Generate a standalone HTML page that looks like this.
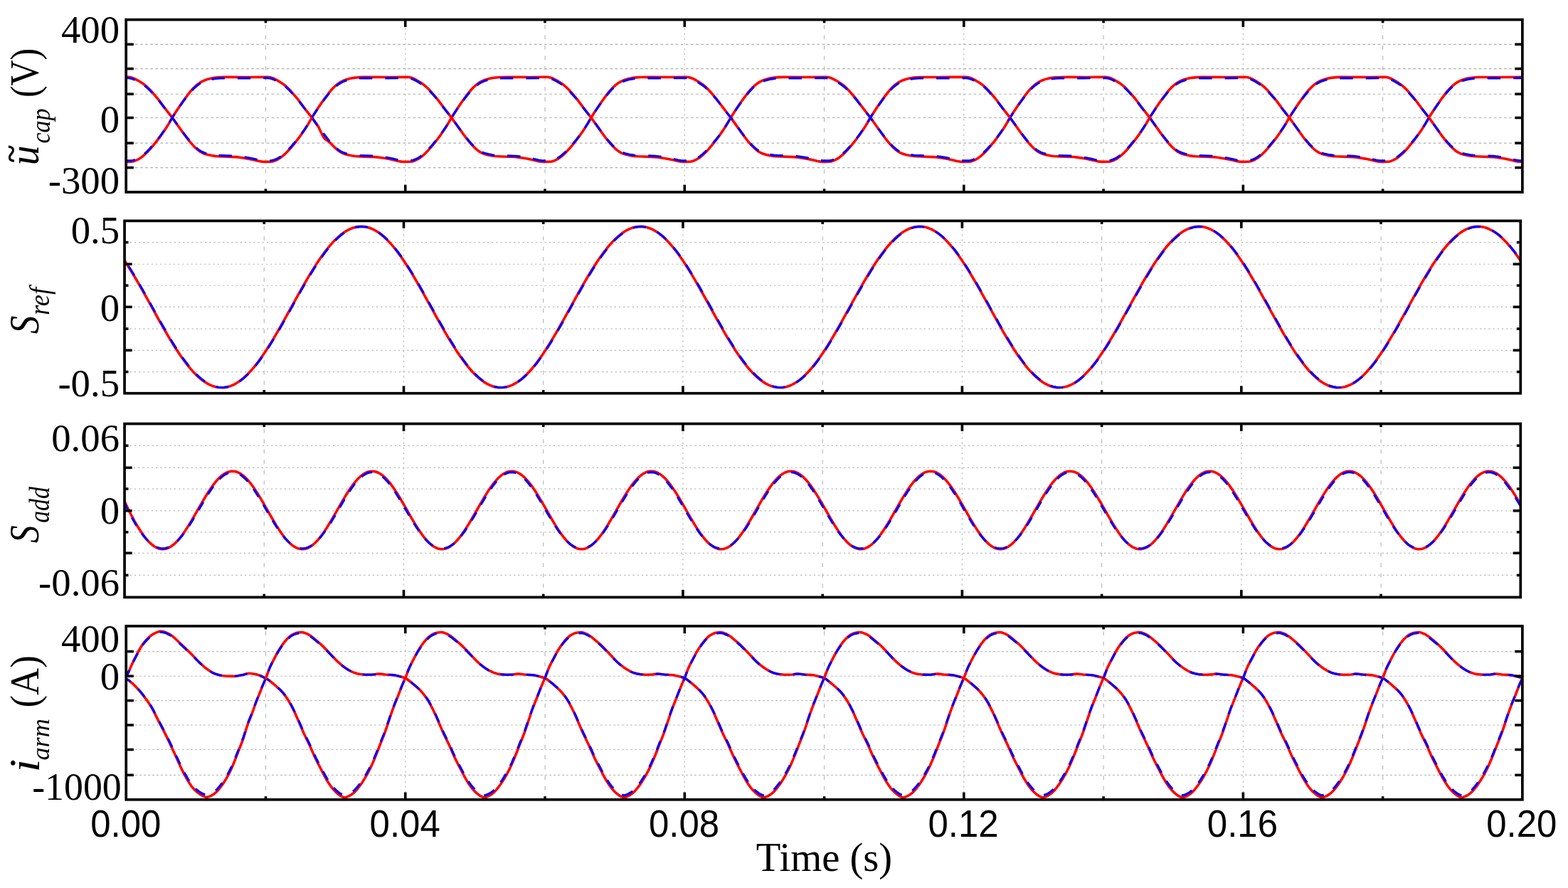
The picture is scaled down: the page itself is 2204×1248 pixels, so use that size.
<!DOCTYPE html>
<html lang="en"><head><meta charset="utf-8"><title>Waveforms</title>
<style>
html,body{margin:0;padding:0;background:#fff;}
body{width:2204px;height:1248px;overflow:hidden;}
svg{display:block;filter:blur(0.55px);}
.yt{font-family:"Liberation Serif",serif;font-size:52px;text-anchor:end;fill:#000;}
.xt{font-family:"Liberation Sans",sans-serif;font-size:50.5px;text-anchor:middle;fill:#000;}
.xl{font-family:"Liberation Serif",serif;font-size:56.6px;text-anchor:middle;fill:#000;}
.yl{font-family:"Liberation Serif",serif;fill:#000;}
.it{font-style:italic;}
</style></head><body>
<svg width="2204" height="1248" viewBox="0 0 2204 1248">
<rect x="0" y="0" width="2204" height="1248" fill="#fff"/>
<defs>
<clipPath id="c0"><rect x="177.2" y="27.65" width="1962.7" height="242.35"/></clipPath>
<clipPath id="c1"><rect x="175.05" y="310.4" width="1962.25" height="242.35"/></clipPath>
<clipPath id="c2"><rect x="175.05" y="595.55" width="1962.25" height="243.85"/></clipPath>
<clipPath id="c3"><rect x="177.25" y="879.9" width="1962.65" height="243.9"/></clipPath>
</defs>
<g>
<g fill="none" stroke-width="1.15">
<line x1="190.05" y1="62.3" x2="2127.75" y2="62.3" stroke="#adadad" stroke-dasharray="3.6 3.5"/>
<line x1="190.05" y1="96.6" x2="2127.75" y2="96.6" stroke="#adadad" stroke-dasharray="3.6 3.5"/>
<line x1="190.05" y1="132.2" x2="2127.75" y2="132.2" stroke="#adadad" stroke-dasharray="3.6 3.5"/>
<line x1="190.05" y1="165.5" x2="2127.75" y2="165.5" stroke="#adadad" stroke-dasharray="3.6 3.5"/>
<line x1="190.05" y1="201.1" x2="2127.75" y2="201.1" stroke="#adadad" stroke-dasharray="3.6 3.5"/>
<line x1="190.05" y1="235.6" x2="2127.75" y2="235.6" stroke="#adadad" stroke-dasharray="3.6 3.5"/>
<line x1="373.47" y1="34.9" x2="373.47" y2="265.15" stroke="#b8b8b8" stroke-dasharray="5.8 8.7"/>
<line x1="569.74" y1="39.5" x2="569.74" y2="259.15" stroke="#b8b8b8" stroke-dasharray="2.3 4.8"/>
<line x1="766.01" y1="34.9" x2="766.01" y2="265.15" stroke="#b8b8b8" stroke-dasharray="5.8 8.7"/>
<line x1="962.28" y1="39.5" x2="962.28" y2="259.15" stroke="#b8b8b8" stroke-dasharray="2.3 4.8"/>
<line x1="1158.55" y1="34.9" x2="1158.55" y2="265.15" stroke="#b8b8b8" stroke-dasharray="5.8 8.7"/>
<line x1="1354.82" y1="39.5" x2="1354.82" y2="259.15" stroke="#b8b8b8" stroke-dasharray="2.3 4.8"/>
<line x1="1551.09" y1="34.9" x2="1551.09" y2="265.15" stroke="#b8b8b8" stroke-dasharray="5.8 8.7"/>
<line x1="1747.36" y1="39.5" x2="1747.36" y2="259.15" stroke="#b8b8b8" stroke-dasharray="2.3 4.8"/>
<line x1="1943.63" y1="34.9" x2="1943.63" y2="265.15" stroke="#b8b8b8" stroke-dasharray="5.8 8.7"/>
</g>
<g clip-path="url(#c0)" fill="none" stroke-linejoin="round">
<path d="M177.2 227.39L184.2 227.24L186.2 227.02L188.2 226.55L191.2 225.43L194.2 224L197.2 222.18L200.2 219.95L204.2 216.49L207.2 213.57L211.2 209.27L216.2 203.36L221.2 197.15L225.2 191.85L230.2 184.73L234.2 178.71L237.2 173.84L242.2 165.19L245.2 160.35L251.2 151.2L256.2 143.9L261.2 136.97L266.2 130.4L269.2 126.75L272.2 123.53L275.2 120.69L278.2 118.23L281.2 116.11L284.2 114.39L287.2 113.03L291.2 111.59L296.2 110.25L301.2 109.36L308.2 108.65L316.2 108.41L351.2 108.45L376.2 108.23L379.2 108.58L382.2 109.38L385.2 110.55L389.2 112.59L395.2 116.23L399.2 119.01L402.2 121.46L405.2 124.24L408.2 127.35L416.2 136.56L419.2 140.22L423.2 145.57L428.2 152.29L438.2 165.11L442.2 170.63L448.2 179.14L449.2 181.77L451.2 185.8L453.2 189.92L454.2 191.77L455.2 193.37L456.2 194.67L457.2 195.67L458.2 196.44L461.2 198.29L463.2 199.86L466.2 202.81L470.2 206.92L473.2 209.68L476.2 212.12L478.2 213.48L481.2 215.08L484.2 216.29L488.2 217.48L494.2 218.71L499.2 219.47L506.2 219.86L527.2 220.59L533.2 221.17L545.2 223.09L554.2 224.96L560.2 226.49L564.2 227.1L568.2 227.37L576.2 227.26L579.2 226.94L581.2 226.4L584.2 225.23L587.2 223.75L590.2 221.87L593.2 219.58L597.2 216.06L601.2 212.05L605.2 207.6L611.2 200.34L615.2 195.26L619.2 189.82L624.2 182.57L627.2 177.99L630.2 173.06L634.2 166.1L637.2 161.2L643.2 152.01L648.2 144.67L653.2 137.7L659.2 129.82L662.2 126.23L665.2 123.07L668.2 120.29L671.2 117.89L674.2 115.82L677.2 114.16L681.2 112.46L686.2 110.87L691.2 109.76L697.2 108.95L703.2 108.52L715.2 108.41L743.2 108.46L768.2 108.22L771.2 108.49L774.2 109.21L777.2 110.31L781.2 112.29L787.2 115.89L791.2 118.61L794.2 121L797.2 123.72L800.2 126.77L805.2 132.45L810.2 138.31L813.2 142.12L820.2 151.58L827.2 160.57L831.2 165.73L836.2 172.71L846.2 186.77L851.2 193.5L855.2 198.57L858.2 202.1L861.2 205.36L864.2 208.3L867.2 210.91L870.2 213.14L873.2 214.82L876.2 216.1L880.2 217.34L886.2 218.61L891.2 219.41L897.2 219.81L920.2 220.62L926.2 221.23L938.2 223.17L947.2 225.07L953.2 226.58L957.2 227.15L961.2 227.38L969.2 227.24L971.2 227.04L973.2 226.58L976.2 225.47L979.2 224.05L982.2 222.24L985.2 220.02L989.2 216.56L992.2 213.65L996.2 209.36L1001.2 203.46L1007.2 195.96L1011.2 190.57L1016.2 183.37L1020.2 177.26L1023.2 172.26L1027.2 165.32L1030.2 160.48L1036.2 151.32L1041.2 144.01L1046.2 137.08L1051.2 130.5L1054.2 126.84L1057.2 123.61L1060.2 120.76L1063.2 118.3L1066.2 116.16L1069.2 114.43L1072.2 113.06L1076.2 111.62L1081.2 110.27L1086.2 109.38L1093.2 108.65L1101.2 108.41L1136.2 108.45L1161.2 108.23L1164.2 108.57L1167.2 109.35L1170.2 110.52L1174.2 112.54L1180.2 116.18L1184.2 118.95L1187.2 121.39L1190.2 124.17L1193.2 127.26L1201.2 136.47L1204.2 140.12L1208.2 145.46L1213.2 152.18L1223.2 165.01L1227.2 170.52L1238.2 186.03L1243.2 192.79L1247.2 197.91L1250.2 201.48L1254.2 205.83L1257.2 208.72L1260.2 211.28L1262.2 212.78L1264.2 214.02L1267.2 215.48L1270.2 216.61L1274.2 217.7L1281.2 219.04L1285.2 219.56L1295.2 219.98L1312.2 220.58L1318.2 221.16L1330.2 223.07L1339.2 224.94L1345.2 226.47L1349.2 227.09L1353.2 227.37L1361.2 227.27L1364.2 226.96L1366.2 226.43L1369.2 225.27L1372.2 223.8L1375.2 221.92L1378.2 219.64L1382.2 216.13L1386.2 212.13L1390.2 207.69L1396.2 200.44L1401.2 194.04L1405.2 188.52L1410.2 181.19L1413.2 176.53L1416.2 171.46L1420.2 164.56L1424.2 158.21L1430.2 149.15L1435.2 141.95L1440.2 135.13L1445.2 128.67L1448.2 125.22L1451.2 122.18L1454.2 119.52L1457.2 117.22L1460.2 115.27L1463.2 113.72L1467.2 112.13L1472.2 110.63L1477.2 109.61L1483.2 108.86L1489.2 108.49L1503.2 108.42L1528.2 108.46L1553.2 108.21L1556.2 108.47L1559.2 109.18L1562.2 110.28L1566.2 112.24L1572.2 115.84L1576.2 118.55L1579.2 120.93L1582.2 123.64L1585.2 126.68L1590.2 132.35L1595.2 138.21L1598.2 142.01L1605.2 151.47L1612.2 160.47L1616.2 165.62L1621.2 172.59L1631.2 186.66L1636.2 193.4L1640.2 198.47L1643.2 202.01L1646.2 205.27L1649.2 208.23L1652.2 210.85L1655.2 213.08L1658.2 214.78L1661.2 216.07L1665.2 217.32L1671.2 218.6L1676.2 219.4L1681.2 219.76L1705.2 220.61L1711.2 221.22L1723.2 223.16L1732.2 225.05L1738.2 226.57L1742.2 227.14L1746.2 227.38L1754.2 227.24L1756.2 227.05L1758.2 226.6L1761.2 225.5L1764.2 224.09L1767.2 222.29L1770.2 220.08L1774.2 216.64L1777.2 213.73L1781.2 209.45L1785.2 204.77L1791.2 197.35L1795.2 192.07L1800.2 184.96L1804.2 178.96L1807.2 174.11L1812.2 165.46L1815.2 160.6L1821.2 151.44L1826.2 144.13L1831.2 137.19L1836.2 130.61L1839.2 126.94L1842.2 123.69L1845.2 120.83L1848.2 118.36L1851.2 116.22L1854.2 114.47L1857.2 113.09L1861.2 111.64L1866.2 110.28L1871.2 109.39L1878.2 108.66L1885.2 108.42L1921.2 108.45L1946.2 108.23L1949.2 108.55L1952.2 109.33L1955.2 110.48L1959.2 112.5L1965.2 116.13L1969.2 118.89L1972.2 121.32L1975.2 124.09L1978.2 127.18L1986.2 136.37L1989.2 140.02L1993.2 145.35L1998.2 152.08L2008.2 164.9L2012.2 170.41L2023.2 185.92L2028.2 192.69L2032.2 197.81L2035.2 201.39L2039.2 205.75L2042.2 208.65L2045.2 211.22L2047.2 212.72L2049.2 213.98L2052.2 215.45L2055.2 216.58L2059.2 217.68L2066.2 219.03L2070.2 219.55L2079.2 219.95L2097.2 220.58L2103.2 221.15L2115.2 223.06L2124.2 224.92L2131.2 226.65L2135.2 227.19L2139.9 227.4" stroke="#ff0000" stroke-width="3.6"/>
<path d="M177.2 225.84L184.2 225.69L186.2 225.49L188.2 225.03L189.87 224.46M203.1 216.18L206.2 213.35L210.2 209.26L213.47 205.62M222.4 194.85L226.2 189.84L230.74 183.46M238.1 172.13L242.2 165.2L245.27 160.38M252.88 149.13L258.2 141.69L261.17 137.72M269.96 126.89L273.2 123.61L276.2 120.98L279.2 118.69L281.67 117.06M297.5 111.37L303.2 110.52L310.2 109.96L315.81 109.84M333.81 109.89L352.31 109.86M370.31 109.66L376.2 109.67L379.2 110L382.2 110.78L385.2 111.93L387.61 113.07M400.85 121.45L404.2 124.34L407.2 127.26L411.44 131.89M420.57 142.58L428.2 152.62L429.19 153.87M437.9 164.74L442.2 170.51L446.25 176.12M454.37 187.2L459.2 193.49L463.22 198.4M473.31 208.67L476.2 210.95L478.2 212.28L481.2 213.84L484.2 215.02L487.98 216.12M505.58 218.48L524.06 219.06M541.79 221.06L551.2 222.83L557.2 224.22L559.47 224.8M577.3 225.65L579.2 225.41L581.2 224.88L584.2 223.74L587.2 222.29L590.2 220.46L592.48 218.79M603.16 208.81L607.2 204.24L612.55 197.82M620.91 186.83L626.2 179.19L628.73 175.27M635.61 163.8L640.2 156.78L643.3 152.2M651.22 141.05L657.2 133.22L659.95 129.8M670.36 119.7L673.2 117.69L676.2 115.94L679.2 114.56L683.2 113.11L685.37 112.46M702.92 109.96L714.2 109.83L721.42 109.86M739.42 109.92L757.91 109.7M775.56 111.06L778.2 112.13L782.2 114.17L788.2 117.75L790.03 118.96M801.11 128.71L809.2 137.81L810.72 139.61M819.15 150.58L826.2 159.47L828.06 161.76M836.37 172.77L844.67 184.17M853.07 195.15L857.2 200.07L861.2 204.36L862.84 205.97M875.57 214.59L879.2 215.78L884.2 216.92L891.2 218.06L893.2 218.25M911.17 218.88L921.2 219.31L927.2 219.97L929.52 220.31M946.91 223.51L953.2 225.05L957.2 225.61L961.2 225.84L964.92 225.81M981.2 221.45L984.2 219.42L988.2 216.17L991.2 213.42L992.99 211.65M1002.4 201.08L1007.2 195.2L1011.25 189.88M1019.07 178.69L1022.2 173.77L1026.23 166.93M1033.54 155.59L1039.2 147.36L1041.54 144.08M1049.85 133.08L1053.2 128.96L1056.2 125.66L1059.2 122.76L1059.72 122.3M1073 114.06L1077.2 112.67L1082.2 111.44L1087.2 110.65L1090.56 110.29M1108.53 109.84L1127.03 109.92M1145.03 109.75L1161.2 109.66L1163.5 109.88M1178.58 116.42L1183.2 119.4L1186.2 121.66L1189.2 124.27L1190.91 125.88M1200.49 136.39L1204.2 140.75L1208.2 145.96L1209.4 147.57M1217.95 158.49L1223.2 165.02L1226.71 169.72M1234.75 180.83L1241.2 189.52L1243.24 192.17M1252.31 202.88L1255.2 205.8L1258.2 208.51L1261.2 210.89L1264.02 212.71M1280.4 217.57L1285.2 218.21L1295.2 218.62L1298.79 218.73M1316.73 219.59L1327.2 221.12L1334.74 222.51M1352.03 225.78L1358.2 225.8L1363.2 225.57L1365.2 225.2L1368.2 224.19L1369.82 223.5M1382.38 214.7L1386.2 210.97L1390.2 206.64L1392.46 204.02M1401.3 193.2L1405.2 187.94L1409.53 181.78M1416.73 170.4L1420.2 164.58L1424.01 158.68M1431.68 147.44L1437.2 139.83L1440.06 136.07M1449.07 125.33L1452.2 122.35L1455.2 119.88L1458.2 117.75L1461.39 115.89M1477.75 110.92L1484.2 110.19L1490.2 109.89L1496.14 109.83M1514.14 109.9L1532.64 109.82M1550.63 109.64L1554.2 109.69L1557.2 110.08L1560.2 110.91L1563.2 112.09L1567.2 114.12L1567.36 114.22M1580.19 122.89L1583.2 125.64L1586.2 128.71L1590.47 133.48M1599.45 144.24L1605.2 151.82L1608.1 155.51M1616.79 166.39L1625.09 177.79M1633.24 188.86L1638.2 195.21L1642.23 200.01M1652.68 210.09L1655.2 211.9L1658.2 213.55L1661.2 214.8L1665.2 216.03L1668.18 216.7M1685.9 218.57L1704.38 219.19M1722.04 221.51L1732.2 223.56L1738.2 225.04L1739.7 225.29M1757.56 225.24L1760.2 224.39L1763.2 223.12L1766.2 221.5L1769.2 219.48L1771.86 217.37M1782.22 207.23L1788.2 200.22L1791.49 196.19M1799.72 185.15L1804.2 178.62L1807.2 173.9L1807.41 173.55M1814.32 162.09L1820.2 153.26L1822.08 150.51M1830.07 139.39L1836.2 131.48L1838.95 128.19M1849.85 118.35L1852.2 116.84L1855.2 115.26L1859.2 113.65L1864.2 112.14L1865.53 111.82M1883.25 109.88L1901.75 109.88M1919.75 109.9L1938.24 109.68M1955.53 112L1959.2 113.82L1965.2 117.36L1969.2 120.06L1969.53 120.3M1980.17 130.29L1988.2 139.44L1989.67 141.24M1998.05 152.22L2007 163.39M2015.2 174.44L2023.52 185.83M2032.02 196.78L2035.2 200.5L2039.2 204.74L2042.09 207.47M2055.61 215.43L2060.2 216.59L2067.2 217.85L2071.2 218.27L2073.52 218.4M2091.5 218.96L2099.2 219.34L2105.2 220.03L2109.79 220.72M2127.07 224.14L2131.2 225.13L2135.2 225.65L2139.9 225.85" stroke="#0000ff" stroke-width="3.1"/>
</g>
<g clip-path="url(#c0)" fill="none" stroke-linejoin="round">
<path d="M177.2 108.21L181.2 108.33L184.2 108.87L187.2 109.83L190.2 111.15L194.2 113.32L200.2 117.07L203.2 119.22L206.2 121.7L209.2 124.51L212.2 127.65L221.2 138.08L224.2 141.87L231.2 151.33L238.2 160.33L242.2 165.47L247.2 172.44L257.2 186.51L262.2 193.25L266.2 198.34L269.2 201.88L272.2 205.16L275.2 208.13L278.2 210.76L281.2 213.01L284.2 214.73L287.2 216.03L291.2 217.29L297.2 218.58L302.2 219.39L307.2 219.76L331.2 220.6L337.2 221.2L349.2 223.14L358.2 225.02L364.2 226.54L368.2 227.13L372.2 227.38L380.2 227.25L383.2 226.89L385.2 226.31L388.2 225.11L391.2 223.6L394.2 221.68L397.2 219.35L401.2 215.8L405.2 211.76L409.2 207.29L415.2 200.01L419.2 194.9L423.2 189.44L428.2 182.16L431.2 177.56L434.2 172.59L438.2 165.64L441.2 160.78L447.2 151.61L452.2 144.28L457.2 137.34L462.2 130.75L465.2 127.06L468.2 123.8L471.2 120.93L474.2 118.44L477.2 116.29L480.2 114.53L483.2 113.14L487.2 111.68L492.2 110.31L497.2 109.4L504.2 108.67L511.2 108.42L547.2 108.45L572.2 108.22L575.2 108.53L578.2 109.29L581.2 110.43L585.2 112.44L591.2 116.06L595.2 118.81L598.2 121.23L601.2 123.98L604.2 127.06L611.2 135.07L615.2 139.88L618.2 143.83L624.2 151.93L631.2 160.91L635.2 166.09L642.2 175.93L651.2 188.52L656.2 195.14L660.2 200.1L664.2 204.59L667.2 207.62L670.2 210.31L673.2 212.64L675.2 213.91L678.2 215.4L681.2 216.54L685.2 217.65L692.2 219.01L696.2 219.54L705.2 219.95L723.2 220.57L729.2 221.13L741.2 223.04L751.2 225.14L757.2 226.63L761.2 227.18L765.2 227.39L773.2 227.22L775.2 226.99L777.2 226.49L780.2 225.35L783.2 223.9L786.2 222.05L789.2 219.8L793.2 216.31L796.2 213.37L800.2 209.06L805.2 203.13L810.2 196.91L814.2 191.59L819.2 184.45L823.2 178.41L826.2 173.52L831.2 164.87L835.2 158.5L841.2 149.43L846.2 142.22L851.2 135.38L856.2 128.91L859.2 125.42L862.2 122.36L865.2 119.68L868.2 117.35L871.2 115.38L874.2 113.81L878.2 112.2L883.2 110.68L888.2 109.64L894.2 108.88L900.2 108.49L914.2 108.42L940.2 108.45L964.2 108.21L967.2 108.44L970.2 109.12L973.2 110.2L976.2 111.61L981.2 114.48L986.2 117.7L989.2 119.94L992.2 122.53L995.2 125.43L998.2 128.68L1006.2 137.98L1009.2 141.76L1016.2 151.22L1023.2 160.23L1027.2 165.36L1031.2 170.9L1042.2 186.4L1047.2 193.15L1051.2 198.24L1054.2 201.79L1057.2 205.08L1060.2 208.05L1063.2 210.69L1066.2 212.96L1069.2 214.69L1072.2 216L1076.2 217.27L1081.2 218.38L1087.2 219.38L1092.2 219.75L1116.2 220.6L1122.2 221.19L1134.2 223.12L1143.2 225L1149.2 226.53L1153.2 227.12L1157.2 227.38L1165.2 227.25L1168.2 226.9L1170.2 226.34L1173.2 225.15L1176.2 223.64L1179.2 221.73L1182.2 219.42L1186.2 215.88L1190.2 211.85L1194.2 207.38L1200.2 200.11L1204.2 195.01L1208.2 189.55L1213.2 182.28L1216.2 177.69L1219.2 172.73L1223.2 165.78L1226.2 160.9L1232.2 151.73L1237.2 144.4L1242.2 137.44L1247.2 130.85L1250.2 127.16L1253.2 123.88L1256.2 121L1259.2 118.5L1262.2 116.34L1265.2 114.57L1268.2 113.17L1272.2 111.7L1277.2 110.33L1282.2 109.41L1288.2 108.75L1294.2 108.46L1316.2 108.47L1335.2 108.41L1357.2 108.22L1360.2 108.52L1363.2 109.26L1366.2 110.4L1370.2 112.39L1376.2 116.01L1380.2 118.75L1383.2 121.16L1386.2 123.9L1389.2 126.97L1396.2 134.98L1400.2 139.78L1403.2 143.72L1409.2 151.83L1416.2 160.81L1420.2 165.98L1426.2 174.4L1435.2 187.03L1440.2 193.75L1444.2 198.8L1447.2 202.31L1450.2 205.56L1453.2 208.48L1456.2 211.07L1458.2 212.59L1460.2 213.87L1463.2 215.37L1466.2 216.52L1470.2 217.63L1477.2 219L1481.2 219.53L1490.2 219.94L1508.2 220.57L1514.2 221.12L1526.2 223.02L1536.2 225.12L1542.2 226.62L1546.2 227.17L1550.2 227.39L1558.2 227.23L1560.2 227.01L1562.2 226.52L1565.2 225.38L1568.2 223.94L1571.2 222.11L1574.2 219.86L1578.2 216.39L1581.2 213.45L1585.2 209.15L1590.2 203.23L1595.2 197.01L1599.2 191.7L1604.2 184.56L1608.2 178.54L1611.2 173.66L1616.2 165.01L1619.2 160.18L1625.2 151.04L1630.2 143.74L1635.2 136.82L1640.2 130.26L1643.2 126.63L1646.2 123.42L1649.2 120.6L1652.2 118.15L1655.2 116.04L1658.2 114.33L1661.2 112.98L1665.2 111.56L1670.2 110.22L1675.2 109.35L1682.2 108.64L1690.2 108.41L1725.2 108.45L1749.2 108.21L1752.2 108.43L1755.2 109.1L1758.2 110.17L1761.2 111.57L1765.2 113.82L1770.2 116.96L1773.2 119.1L1776.2 121.56L1779.2 124.35L1782.2 127.47L1791.2 137.88L1794.2 141.66L1801.2 151.12L1808.2 160.13L1812.2 165.26L1816.2 170.79L1827.2 186.29L1832.2 193.04L1836.2 198.14L1839.2 201.7L1842.2 204.99L1845.2 207.98L1848.2 210.62L1851.2 212.91L1854.2 214.65L1857.2 215.97L1861.2 217.25L1866.2 218.36L1872.2 219.37L1877.2 219.75L1901.2 220.59L1907.2 221.18L1919.2 223.11L1928.2 224.99L1934.2 226.51L1938.2 227.12L1942.2 227.38L1950.2 227.26L1953.2 226.92L1955.2 226.37L1958.2 225.18L1961.2 223.69L1964.2 221.79L1967.2 219.49L1971.2 215.96L1975.2 211.93L1979.2 207.47L1985.2 200.21L1989.2 195.11L1993.2 189.66L1998.2 182.4L2001.2 177.82L2004.2 172.87L2008.2 165.91L2011.2 161.03L2017.2 151.85L2022.2 144.51L2027.2 137.55L2032.2 130.95L2035.2 127.25L2038.2 123.97L2041.2 121.07L2044.2 118.57L2047.2 116.4L2050.2 114.61L2053.2 113.2L2057.2 111.73L2062.2 110.34L2067.2 109.43L2073.2 108.76L2079.2 108.46L2100.2 108.46L2119.2 108.43L2139.9 108.21" stroke="#ff0000" stroke-width="3.6"/>
<path d="M177.2 109.64L181.2 109.76L184.2 110.28L187.2 111.22L189.84 112.34M203.36 120.5L206.2 122.8L209.2 125.53L212.2 128.59L214.21 130.81M223.42 141.47L232.04 152.76M240.75 163.62L244.2 168.13L249.16 174.99M257.26 186.07L262.2 192.56L266.03 197.31M275.9 207.68L279.2 210.41L281.2 211.82L284.2 213.5L287.2 214.76L290 215.67M307.48 218.41L325.96 218.99M343.73 220.78L352.2 222.27L360.2 224.03L361.47 224.36M379.2 225.74L382.2 225.53L384.2 225.1L387.2 224.04L390.2 222.68L393.2 220.94L394.97 219.72M405.89 209.88L410.2 205.09L415.38 198.93M423.83 187.97L429.2 180.28L431.73 176.43M438.62 164.96L442.2 159.37L446.25 153.34M454.12 142.18L459.2 135.43L462.78 130.9M472.87 120.65L476.2 118.18L479.2 116.33L482.2 114.86L486.2 113.35L487.41 112.96M504.82 110.05L513.2 109.83L523.31 109.85M541.31 109.92L559.81 109.72M577.63 110.53L580.2 111.4L583.2 112.73L587.2 114.89L592.43 118.08M603.84 127.65L609.2 133.58L613.53 138.52M622.02 149.46L629.2 158.56L630.9 160.65M639.28 171.63L647.57 183.04M655.91 194.04L660.2 199.23L664.2 203.61L665.51 204.94M677.73 213.95L681.2 215.27L685.2 216.35L692.2 217.67L695.11 218.08M713.07 218.83L724.2 219.26L730.2 219.87L731.46 220.05M748.89 223.13L757.2 225.11L761.2 225.64L765.2 225.84L766.81 225.84M783.52 222.26L786.2 220.64L789.2 218.44L793.2 215.04L795.67 212.69M805.22 202.17L810.2 196.12L814.15 191M822.03 179.84L825.2 174.96L829.27 168.1M836.5 156.74L842.2 148.4L844.45 145.22M852.71 134.19L856.2 129.82L859.2 126.43L862.34 123.31M875.14 114.69L879.2 113.2L884.2 111.81L889.2 110.88L892.47 110.47M910.42 109.83L928.92 109.92M946.92 109.78L965.2 109.67L965.42 109.69M980.92 115.59L986.2 118.89L989.2 121.08L992.2 123.6L993.56 124.86M1003.27 135.31L1007.2 139.86L1010.2 143.66L1012.29 146.44M1020.79 157.38L1027.2 165.37L1029.62 168.59M1037.66 179.7L1045.2 189.87L1046.11 191.05M1055.05 201.82L1058.2 205.09L1061.2 207.88L1064.2 210.35L1066.37 211.88M1082.35 217.26L1088.2 218.14L1095.2 218.51L1100.69 218.67M1118.65 219.41L1125.2 220.22L1135.2 221.87L1136.7 222.15M1153.94 225.65L1158.2 225.84L1166.2 225.65L1168.2 225.37L1170.2 224.82L1171.98 224.16M1184.99 215.71L1188.2 212.71L1192.2 208.56L1195.26 205.11M1204.16 194.32L1208.2 188.95L1212.47 182.92M1219.77 171.58L1223.2 165.77L1226.2 161.02L1226.98 159.83M1234.61 148.58L1240.2 140.81L1242.93 137.19M1251.78 126.39L1254.2 123.95L1257.2 121.26L1260.2 118.94L1263.2 116.95L1263.68 116.67M1279.69 111.22L1285.2 110.45L1291.2 109.98L1298.03 109.84M1316.03 109.89L1334.53 109.85M1352.53 109.65L1358.2 109.7L1361.2 110.14L1364.2 111L1367.2 112.22L1369.65 113.43M1382.76 121.91L1386.2 124.94L1389.2 127.93L1393.24 132.4M1402.33 143.12L1409.2 152.17L1410.96 154.4M1419.66 165.27L1424.2 171.41L1427.99 176.66M1436.12 187.73L1441.2 194.3L1445.01 198.92M1455.22 209.13L1458.2 211.41L1460.2 212.66L1463.2 214.12L1466.2 215.24L1470.16 216.32M1487.8 218.51L1506.28 219.1M1523.99 221.2L1533.2 222.96L1539.2 224.39L1541.65 224.98M1559.52 225.56L1561.2 225.27L1564.2 224.29L1567.2 222.99L1570.2 221.33L1573.2 219.28L1574.41 218.34M1584.97 208.3L1589.2 203.47L1594.33 197.3M1602.65 186.29L1607.2 179.71L1610.43 174.72M1617.31 163.25L1622.2 155.81L1625.03 151.65M1632.96 140.51L1638.2 133.66L1641.74 129.28M1652.3 119.26L1655.2 117.28L1658.2 115.61L1662.2 113.91L1667.2 112.33L1667.53 112.24M1685.14 109.92L1699.2 109.85L1703.64 109.87M1721.64 109.91L1740.14 109.69M1757.68 111.35L1761.2 112.92L1766.2 115.7L1771.2 118.84L1771.99 119.39M1782.93 129.22L1791.2 138.57L1792.5 140.13M1800.91 151.11L1808.2 160.27L1809.84 162.28M1818.11 173.31L1826.41 184.71M1834.85 195.67L1838.2 199.67L1842.2 204L1844.71 206.46M1857.69 214.88L1861.2 215.96L1867.2 217.22L1873.2 218.13L1875.42 218.3M1893.4 218.91L1902.2 219.28L1908.2 219.92L1911.73 220.44M1929.08 223.71L1934.2 224.98L1938.2 225.57L1942.2 225.83L1947.14 225.8M1963.2 221.05L1966.2 218.92L1970.2 215.6L1973.2 212.79L1974.82 211.15M1984.19 200.56L1989.2 194.37L1993 189.34M2000.78 178.15L2003.2 174.34L2007.92 166.38M2015.26 155.04L2021.2 146.44L2023.28 143.55M2031.62 132.55L2035.2 128.21L2038.2 125L2041.2 122.19L2041.61 121.83M2055.12 113.77L2060.2 112.21L2065.2 111.14L2071.2 110.35L2072.77 110.21M2090.75 109.84L2109.25 109.92M2127.25 109.74L2139.9 109.64" stroke="#0000ff" stroke-width="3.1"/>
</g>
<g stroke="#000" stroke-width="3.6" fill="none">
<line x1="177.2" y1="62.3" x2="187.85" y2="62.3"/>
<line x1="2139.9" y1="62.3" x2="2129.25" y2="62.3"/>
<line x1="177.2" y1="96.6" x2="187.85" y2="96.6"/>
<line x1="2139.9" y1="96.6" x2="2129.25" y2="96.6"/>
<line x1="177.2" y1="132.2" x2="187.85" y2="132.2"/>
<line x1="2139.9" y1="132.2" x2="2129.25" y2="132.2"/>
<line x1="177.2" y1="165.5" x2="187.85" y2="165.5"/>
<line x1="2139.9" y1="165.5" x2="2129.25" y2="165.5"/>
<line x1="177.2" y1="201.1" x2="187.85" y2="201.1"/>
<line x1="2139.9" y1="201.1" x2="2129.25" y2="201.1"/>
<line x1="177.2" y1="235.6" x2="187.85" y2="235.6"/>
<line x1="2139.9" y1="235.6" x2="2129.25" y2="235.6"/>
<line x1="373.47" y1="27.65" x2="373.47" y2="32.3"/>
<line x1="373.47" y1="270" x2="373.47" y2="265.35"/>
<line x1="569.74" y1="27.65" x2="569.74" y2="38"/>
<line x1="569.74" y1="270" x2="569.74" y2="259.65"/>
<line x1="766.01" y1="27.65" x2="766.01" y2="32.3"/>
<line x1="766.01" y1="270" x2="766.01" y2="265.35"/>
<line x1="962.28" y1="27.65" x2="962.28" y2="38"/>
<line x1="962.28" y1="270" x2="962.28" y2="259.65"/>
<line x1="1158.55" y1="27.65" x2="1158.55" y2="32.3"/>
<line x1="1158.55" y1="270" x2="1158.55" y2="265.35"/>
<line x1="1354.82" y1="27.65" x2="1354.82" y2="38"/>
<line x1="1354.82" y1="270" x2="1354.82" y2="259.65"/>
<line x1="1551.09" y1="27.65" x2="1551.09" y2="32.3"/>
<line x1="1551.09" y1="270" x2="1551.09" y2="265.35"/>
<line x1="1747.36" y1="27.65" x2="1747.36" y2="38"/>
<line x1="1747.36" y1="270" x2="1747.36" y2="259.65"/>
<line x1="1943.63" y1="27.65" x2="1943.63" y2="32.3"/>
<line x1="1943.63" y1="270" x2="1943.63" y2="265.35"/>
</g>
<rect x="177.2" y="27.65" width="1962.7" height="242.35" fill="none" stroke="#000" stroke-width="3.7"/>
</g>
<g>
<g fill="none" stroke-width="1.15">
<line x1="182.7" y1="340.6" x2="2130.35" y2="340.6" stroke="#b9b9b9" stroke-dasharray="2.3 3.9"/>
<line x1="187.9" y1="371.2" x2="2125.15" y2="371.2" stroke="#b9b9b9" stroke-dasharray="2.3 3.9"/>
<line x1="182.7" y1="401.2" x2="2130.35" y2="401.2" stroke="#b9b9b9" stroke-dasharray="2.3 3.9"/>
<line x1="187.9" y1="431.4" x2="2125.15" y2="431.4" stroke="#b9b9b9" stroke-dasharray="2.3 3.9"/>
<line x1="182.7" y1="462.1" x2="2130.35" y2="462.1" stroke="#b9b9b9" stroke-dasharray="2.3 3.9"/>
<line x1="187.9" y1="492.3" x2="2125.15" y2="492.3" stroke="#b9b9b9" stroke-dasharray="2.3 3.9"/>
<line x1="182.7" y1="522.6" x2="2130.35" y2="522.6" stroke="#b9b9b9" stroke-dasharray="2.3 3.9"/>
<line x1="371.28" y1="317.65" x2="371.28" y2="547.9" stroke="#b8b8b8" stroke-dasharray="5.8 8.7"/>
<line x1="567.5" y1="322.25" x2="567.5" y2="541.9" stroke="#b8b8b8" stroke-dasharray="2.3 4.8"/>
<line x1="763.73" y1="317.65" x2="763.73" y2="547.9" stroke="#b8b8b8" stroke-dasharray="5.8 8.7"/>
<line x1="959.95" y1="322.25" x2="959.95" y2="541.9" stroke="#b8b8b8" stroke-dasharray="2.3 4.8"/>
<line x1="1156.18" y1="317.65" x2="1156.18" y2="547.9" stroke="#b8b8b8" stroke-dasharray="5.8 8.7"/>
<line x1="1352.4" y1="322.25" x2="1352.4" y2="541.9" stroke="#b8b8b8" stroke-dasharray="2.3 4.8"/>
<line x1="1548.63" y1="317.65" x2="1548.63" y2="547.9" stroke="#b8b8b8" stroke-dasharray="5.8 8.7"/>
<line x1="1744.85" y1="322.25" x2="1744.85" y2="541.9" stroke="#b8b8b8" stroke-dasharray="2.3 4.8"/>
<line x1="1941.08" y1="317.65" x2="1941.08" y2="547.9" stroke="#b8b8b8" stroke-dasharray="5.8 8.7"/>
</g>
<g clip-path="url(#c1)" fill="none" stroke-linejoin="round">
<path d="M175.05 366.36L180.05 373.97L185.05 381.96L191.05 391.95L198.05 404.06L208.05 421.93L224.05 450.83L232.05 464.93L238.05 475.16L244.05 484.98L249.05 492.79L254.05 500.21L259.05 507.2L263.05 512.44L267.05 517.34L271.05 521.9L275.05 526.08L279.05 529.88L283.05 533.27L287.05 536.25L291.05 538.8L295.05 540.91L299.05 542.57L303.05 543.77L307.05 544.52L311.05 544.8L315.05 544.61L319.05 543.97L323.05 542.86L327.05 541.3L331.05 539.28L335.05 536.83L339.05 533.94L343.05 530.63L347.05 526.92L351.05 522.82L355.05 518.34L359.05 513.51L363.05 508.34L368.05 501.43L373.05 494.08L378.05 486.33L384.05 476.57L390.05 466.4L398.05 452.35L421.05 410.88L429.05 396.83L435.05 386.65L441.05 376.89L446.05 369.13L451.05 361.77L456.05 354.86L460.05 349.69L464.05 344.85L468.05 340.36L472.05 336.25L476.05 332.53L480.05 329.22L484.05 326.32L488.05 323.86L492.05 321.84L496.05 320.26L500.05 319.15L504.05 318.49L508.05 318.3L512.05 318.57L516.05 319.31L520.05 320.51L524.05 322.16L528.05 324.26L532.05 326.8L536.05 329.77L540.05 333.15L544.05 336.94L548.05 341.12L552.05 345.67L556.05 350.57L561.05 357.16L566.05 364.23L571.05 371.72L576.05 379.61L582.05 389.5L589.05 401.52L598.05 417.51L617.05 451.82L625.05 465.88L631.05 476.07L637.05 485.86L642.05 493.63L647.05 501.01L652.05 507.94L656.05 513.13L660.05 517.99L664.05 522.5L668.05 526.63L672.05 530.37L676.05 533.71L680.05 536.63L684.05 539.11L688.05 541.16L692.05 542.76L696.05 543.9L700.05 544.58L704.05 544.8L708.05 544.55L712.05 543.84L716.05 542.67L720.05 541.05L724.05 538.97L728.05 536.46L732.05 533.51L736.05 530.15L740.05 526.38L744.05 522.22L748.05 517.7L752.05 512.81L756.05 507.6L761.05 500.65L766.05 493.25L771.05 485.46L777.05 475.66L784.05 463.72L792.05 449.58L814.05 409.9L822.05 395.88L828.05 385.74L834.05 376.01L839.05 368.3L844.05 360.99L849.05 354.13L853.05 349L857.05 344.21L861.05 339.77L865.05 335.72L869.05 332.05L873.05 328.79L877.05 325.96L881.05 323.55L885.05 321.59L889.05 320.08L893.05 319.03L897.05 318.44L901.05 318.31L905.05 318.65L909.05 319.45L913.05 320.71L917.05 322.42L921.05 324.58L925.05 327.18L929.05 330.21L933.05 333.65L937.05 337.49L941.05 341.72L945.05 346.32L949.05 351.27L954.05 357.91L959.05 365.03L964.05 372.57L969.05 380.49L975.05 390.42L982.05 402.48L991.05 418.5L1009.05 451.01L1017.05 465.1L1023.05 475.32L1029.05 485.14L1034.05 492.95L1039.05 500.36L1044.05 507.33L1048.05 512.56L1052.05 517.46L1056.05 522.01L1060.05 526.18L1064.05 529.97L1068.05 533.35L1072.05 536.32L1076.05 538.86L1080.05 540.95L1084.05 542.6L1088.05 543.8L1092.05 544.53L1096.05 544.8L1100.05 544.6L1104.05 543.95L1108.05 542.83L1112.05 541.25L1116.05 539.23L1120.05 536.76L1124.05 533.86L1128.05 530.55L1132.05 526.82L1136.05 522.71L1140.05 518.22L1144.05 513.38L1148.05 508.2L1153.05 501.29L1158.05 493.93L1163.05 486.17L1169.05 476.41L1175.05 466.23L1183.05 452.17L1206.05 410.7L1214.05 396.66L1220.05 386.48L1226.05 376.73L1231.05 368.98L1236.05 361.63L1241.05 354.73L1245.05 349.56L1249.05 344.73L1253.05 340.25L1257.05 336.15L1261.05 332.44L1265.05 329.14L1269.05 326.25L1273.05 323.8L1277.05 321.79L1281.05 320.23L1285.05 319.13L1289.05 318.48L1293.05 318.3L1297.05 318.59L1301.05 319.33L1305.05 320.54L1309.05 322.2L1313.05 324.32L1317.05 326.87L1321.05 329.85L1325.05 333.24L1329.05 337.04L1333.05 341.23L1337.05 345.79L1341.05 350.7L1346.05 357.3L1351.05 364.37L1356.05 371.88L1361.05 379.77L1367.05 389.67L1374.05 401.7L1383.05 417.69L1402.05 451.99L1410.05 466.05L1416.05 476.24L1422.05 486.02L1427.05 493.78L1432.05 501.15L1437.05 508.07L1441.05 513.26L1445.05 518.11L1449.05 522.6L1453.05 526.73L1457.05 530.46L1461.05 533.79L1465.05 536.69L1469.05 539.17L1473.05 541.21L1477.05 542.79L1481.05 543.92L1485.05 544.59L1489.05 544.8L1493.05 544.54L1497.05 543.82L1501.05 542.64L1505.05 541L1509.05 538.91L1513.05 536.39L1517.05 533.43L1521.05 530.06L1525.05 526.28L1529.05 522.12L1533.05 517.58L1537.05 512.69L1541.05 507.47L1546.05 500.5L1551.05 493.1L1556.05 485.3L1562.05 475.49L1569.05 463.54L1577.05 449.4L1598.05 411.51L1606.05 397.43L1612.05 387.23L1618.05 377.44L1623.05 369.66L1628.05 362.27L1633.05 355.33L1637.05 350.13L1641.05 345.26L1645.05 340.74L1649.05 336.6L1653.05 332.84L1657.05 329.49L1661.05 326.56L1665.05 324.06L1669.05 322L1673.05 320.38L1677.05 319.23L1681.05 318.53L1685.05 318.3L1689.05 318.53L1693.05 319.23L1697.05 320.38L1701.05 322L1705.05 324.06L1709.05 326.56L1713.05 329.49L1717.05 332.84L1721.05 336.6L1725.05 340.74L1729.05 345.26L1733.05 350.13L1737.05 355.33L1742.05 362.27L1747.05 369.66L1752.05 377.44L1758.05 387.23L1765.05 399.17L1773.05 413.29L1795.05 452.97L1803.05 467L1809.05 477.16L1815.05 486.89L1820.05 494.61L1825.05 501.93L1830.05 508.8L1834.05 513.94L1838.05 518.75L1842.05 523.19L1846.05 527.26L1850.05 530.94L1854.05 534.21L1858.05 537.06L1862.05 539.48L1866.05 541.45L1870.05 542.98L1874.05 544.04L1878.05 544.65L1882.05 544.79L1886.05 544.47L1890.05 543.68L1894.05 542.44L1898.05 540.74L1902.05 538.59L1906.05 536.01L1910.05 532.99L1914.05 529.56L1918.05 525.73L1922.05 521.51L1926.05 516.93L1930.05 511.99L1935.05 505.36L1940.05 498.25L1945.05 490.72L1950.05 482.81L1956.05 472.89L1963.05 460.84L1972.05 444.82L1990.05 412.31L1998.05 398.21L2004.05 387.99L2010.05 378.16L2015.05 370.34L2020.05 362.92L2025.05 355.94L2029.05 350.7L2033.05 345.79L2037.05 341.23L2041.05 337.04L2045.05 333.24L2049.05 329.85L2053.05 326.87L2057.05 324.32L2061.05 322.2L2065.05 320.54L2069.05 319.33L2073.05 318.59L2077.05 318.3L2081.05 318.48L2085.05 319.13L2089.05 320.23L2093.05 321.79L2097.05 323.8L2101.05 326.25L2105.05 329.14L2109.05 332.44L2113.05 336.15L2117.05 340.25L2121.05 344.73L2125.05 349.56L2129.05 354.73L2134.05 361.63L2137.05 365.99" stroke="#ff0000" stroke-width="3.6"/>
<path d="M180.86 374.27L186.05 382.55L188.82 387.11M196.23 399.73L203.63 412.77M210.72 425.5L217.96 438.6M225.05 451.32L232.46 464.36M239.9 476.97L245.05 485.34L247.89 489.8M256.18 502.09L261.05 508.76L265.47 514.4M275.67 525.8L280.05 529.93L284.05 533.29L288.14 536.28M303.41 543.44L307.05 544.17L311.05 544.53L315.05 544.43L319.05 543.87L321.56 543.27M336.7 535.95L340.05 533.48L344.05 530.15L348.05 526.42L349.07 525.4M359.23 513.97L364.05 507.77L368.48 501.66M376.75 489.35L382.05 480.91L384.72 476.52M392.15 463.9L399.56 450.86M406.65 438.14L413.89 425.04M420.97 412.31L428.38 399.27M435.81 386.66L441.05 378.12L443.78 373.82M452.04 361.52L457.05 354.63L461.29 349.2M471.44 337.77L475.05 334.28L479.05 330.8L483.05 327.73L483.8 327.2M498.92 319.85L502.05 319.13L506.05 318.63L510.05 318.59L514.05 319.01L517.07 319.64M532.36 326.76L536.05 329.44L540.05 332.75L544.05 336.46L544.84 337.24M555.05 348.63L559.05 353.71L564.05 360.51L564.35 360.93M572.64 373.22L578.05 381.82L580.63 386.06M588.07 398.67L595.48 411.7M602.57 424.43L609.82 437.52M616.9 450.25L624.3 463.3M631.71 475.91L637.05 484.62L639.67 488.76M647.9 501.07L652.05 506.83L656.05 512.07L657.12 513.41M667.21 524.87L671.05 528.61L675.05 532.12L679.05 535.21L679.47 535.5M694.43 543.05L698.05 543.92L702.05 544.45L706.05 544.52L710.05 544.12L712.57 543.63M728.01 536.72L732.05 533.83L736.05 530.55L740.05 526.86L740.6 526.32M750.87 514.96L755.05 509.68L760.05 502.9L760.21 502.68M768.52 490.4L774.05 481.64L776.54 477.57M783.99 464.97L791.41 451.93M798.5 439.21L805.75 426.11M812.82 413.38L820.22 400.34M827.62 387.72L833.05 378.84L835.56 374.86M843.77 362.54L848.05 356.58L852.95 350.19M862.98 338.69L867.05 334.7L871.05 331.17L875.14 327.99M889.95 320.27L893.05 319.43L897.05 318.76L901.05 318.55L905.05 318.81L908.07 319.3M923.66 326L927.05 328.35L931.05 331.5L935.05 335.07L936.35 336.32M946.69 347.65L951.05 353.12L956.07 359.91M964.41 372.18L970.05 381.09L972.44 385M979.9 397.6L987.33 410.63M994.43 423.36L1001.67 436.45M1008.75 449.18L1016.14 462.23M1023.53 474.86L1029.05 483.9L1031.45 487.71M1039.64 500.05L1044.05 506.22L1048.78 512.42M1058.75 523.94L1063.05 528.19L1067.05 531.74L1070.81 534.71M1085.48 542.61L1089.05 543.62L1093.05 544.32L1097.05 544.55L1101.05 544.32L1103.56 543.94M1119.3 537.47L1123.05 534.92L1127.05 531.79L1131.05 528.24L1132.11 527.23M1142.51 515.94L1147.05 510.27L1151.93 503.7M1160.3 491.44L1166.05 482.37L1168.35 478.63M1175.82 466.03L1183.26 453M1190.36 440.28L1197.6 427.18M1204.68 414.45L1212.06 401.4M1219.44 388.77L1225.05 379.56L1227.35 375.91M1235.51 363.57L1240.05 357.19L1244.61 351.18M1254.53 339.63L1258.05 336.07L1262.05 332.4L1266.05 329.13L1266.5 328.8M1281.01 320.73L1285.05 319.53L1289.05 318.81L1293.05 318.55L1297.05 318.75L1299.05 319.03M1314.94 325.27L1319.05 328.02L1323.05 331.13L1327.05 334.65L1327.86 335.41M1338.33 346.67L1343.05 352.54L1347.79 358.89M1356.18 371.14L1361.05 378.76L1364.25 383.95M1371.74 396.54L1379.18 409.57M1386.29 422.29L1393.53 435.38M1400.6 448.12L1407.98 461.17M1415.35 473.8L1421.05 483.18L1423.24 486.67M1431.38 499.02L1436.05 505.61L1440.45 511.42M1450.31 523L1454.05 526.81L1458.05 530.5L1462.18 533.89M1476.56 542.12L1480.05 543.25L1484.05 544.12L1488.05 544.52L1492.05 544.46L1494.53 544.18M1510.57 538.19L1514.05 535.95L1518.05 532.97L1522.05 529.57L1523.61 528.14M1534.14 516.92L1538.05 512.13L1543.05 505.54L1543.65 504.71M1552.07 492.48L1557.05 484.7L1560.16 479.68M1567.65 467.09L1575.11 454.07M1582.22 441.35L1589.46 428.25M1596.53 415.52L1603.9 402.47M1611.26 389.83L1617.05 380.28L1619.13 376.95M1627.25 364.6L1632.05 357.8L1636.28 352.18M1646.09 340.57L1650.05 336.51L1654.05 332.79L1657.87 329.62M1672.1 321.24L1676.05 319.91L1680.05 319.02L1684.05 318.59L1688.05 318.63L1690.01 318.81M1706.2 324.55L1710.05 326.99L1714.05 329.95L1718.05 333.33L1719.35 334.51M1729.96 345.69L1734.05 350.69L1739.05 357.26L1739.5 357.88M1747.95 370.1L1753.05 378.04L1756.06 382.89M1763.57 395.48L1771.03 408.5M1778.14 421.22L1785.39 434.31M1792.46 447.05L1799.82 460.1M1807.17 472.74L1813.05 482.45L1815.03 485.62M1823.12 497.99L1828.05 504.99L1832.12 510.42M1841.88 522.05L1846.05 526.37L1850.05 530.11L1853.57 533.06M1867.66 541.59L1871.05 542.83L1875.05 543.86L1879.05 544.43L1883.05 544.53L1885.49 544.37M1901.81 538.9L1905.05 536.93L1909.05 534.1L1913.05 530.85L1915.09 529.03M1925.77 517.9L1930.05 512.7L1934.05 507.5L1935.36 505.73M1943.83 493.52L1949.05 485.42L1951.96 480.73M1959.48 468.15L1966.95 455.14M1974.07 442.42L1981.32 429.32M1988.38 416.59L1995.74 403.53M2003.08 390.89L2009.05 381.01L2010.92 378M2018.99 365.63L2024.05 358.42L2027.96 353.18M2037.67 341.52L2042.05 336.95L2046.05 333.19L2049.27 330.46M2063.22 321.79L2067.05 320.35L2071.05 319.29L2075.05 318.69L2079.05 318.56L2080.96 318.66M2097.42 323.86L2101.05 326.03L2105.05 328.83L2109.05 332.06L2110.83 333.62M2121.57 344.72L2126.05 350.12L2130.05 355.3L2131.21 356.86" stroke="#0000ff" stroke-width="3.1"/>
</g>
<g stroke="#000" stroke-width="3.6" fill="none">
<line x1="175.05" y1="340.6" x2="180.5" y2="340.6"/>
<line x1="2137.3" y1="340.6" x2="2131.85" y2="340.6"/>
<line x1="175.05" y1="371.2" x2="185.7" y2="371.2"/>
<line x1="2137.3" y1="371.2" x2="2126.65" y2="371.2"/>
<line x1="175.05" y1="401.2" x2="180.5" y2="401.2"/>
<line x1="2137.3" y1="401.2" x2="2131.85" y2="401.2"/>
<line x1="175.05" y1="431.4" x2="185.7" y2="431.4"/>
<line x1="2137.3" y1="431.4" x2="2126.65" y2="431.4"/>
<line x1="175.05" y1="462.1" x2="180.5" y2="462.1"/>
<line x1="2137.3" y1="462.1" x2="2131.85" y2="462.1"/>
<line x1="175.05" y1="492.3" x2="185.7" y2="492.3"/>
<line x1="2137.3" y1="492.3" x2="2126.65" y2="492.3"/>
<line x1="175.05" y1="522.6" x2="180.5" y2="522.6"/>
<line x1="2137.3" y1="522.6" x2="2131.85" y2="522.6"/>
<line x1="371.28" y1="310.4" x2="371.28" y2="315.05"/>
<line x1="371.28" y1="552.75" x2="371.28" y2="548.1"/>
<line x1="567.5" y1="310.4" x2="567.5" y2="320.75"/>
<line x1="567.5" y1="552.75" x2="567.5" y2="542.4"/>
<line x1="763.73" y1="310.4" x2="763.73" y2="315.05"/>
<line x1="763.73" y1="552.75" x2="763.73" y2="548.1"/>
<line x1="959.95" y1="310.4" x2="959.95" y2="320.75"/>
<line x1="959.95" y1="552.75" x2="959.95" y2="542.4"/>
<line x1="1156.18" y1="310.4" x2="1156.18" y2="315.05"/>
<line x1="1156.18" y1="552.75" x2="1156.18" y2="548.1"/>
<line x1="1352.4" y1="310.4" x2="1352.4" y2="320.75"/>
<line x1="1352.4" y1="552.75" x2="1352.4" y2="542.4"/>
<line x1="1548.63" y1="310.4" x2="1548.63" y2="315.05"/>
<line x1="1548.63" y1="552.75" x2="1548.63" y2="548.1"/>
<line x1="1744.85" y1="310.4" x2="1744.85" y2="320.75"/>
<line x1="1744.85" y1="552.75" x2="1744.85" y2="542.4"/>
<line x1="1941.08" y1="310.4" x2="1941.08" y2="315.05"/>
<line x1="1941.08" y1="552.75" x2="1941.08" y2="548.1"/>
</g>
<rect x="175.05" y="310.4" width="1962.25" height="242.35" fill="none" stroke="#000" stroke-width="3.7"/>
</g>
<g>
<g fill="none" stroke-width="1.15">
<line x1="182.7" y1="626.3" x2="2130.35" y2="626.3" stroke="#b9b9b9" stroke-dasharray="2.3 3.9"/>
<line x1="187.9" y1="657.3" x2="2125.15" y2="657.3" stroke="#b9b9b9" stroke-dasharray="2.3 3.9"/>
<line x1="182.7" y1="687.1" x2="2130.35" y2="687.1" stroke="#b9b9b9" stroke-dasharray="2.3 3.9"/>
<line x1="187.9" y1="717.8" x2="2125.15" y2="717.8" stroke="#b9b9b9" stroke-dasharray="2.3 3.9"/>
<line x1="182.7" y1="747.8" x2="2130.35" y2="747.8" stroke="#b9b9b9" stroke-dasharray="2.3 3.9"/>
<line x1="187.9" y1="777.3" x2="2125.15" y2="777.3" stroke="#b9b9b9" stroke-dasharray="2.3 3.9"/>
<line x1="182.7" y1="808.4" x2="2130.35" y2="808.4" stroke="#b9b9b9" stroke-dasharray="2.3 3.9"/>
<line x1="371.28" y1="602.8" x2="371.28" y2="834.55" stroke="#b8b8b8" stroke-dasharray="5.8 8.7"/>
<line x1="567.5" y1="607.4" x2="567.5" y2="828.55" stroke="#b8b8b8" stroke-dasharray="2.3 4.8"/>
<line x1="763.73" y1="602.8" x2="763.73" y2="834.55" stroke="#b8b8b8" stroke-dasharray="5.8 8.7"/>
<line x1="959.95" y1="607.4" x2="959.95" y2="828.55" stroke="#b8b8b8" stroke-dasharray="2.3 4.8"/>
<line x1="1156.18" y1="602.8" x2="1156.18" y2="834.55" stroke="#b8b8b8" stroke-dasharray="5.8 8.7"/>
<line x1="1352.4" y1="607.4" x2="1352.4" y2="828.55" stroke="#b8b8b8" stroke-dasharray="2.3 4.8"/>
<line x1="1548.63" y1="602.8" x2="1548.63" y2="834.55" stroke="#b8b8b8" stroke-dasharray="5.8 8.7"/>
<line x1="1744.85" y1="607.4" x2="1744.85" y2="828.55" stroke="#b8b8b8" stroke-dasharray="2.3 4.8"/>
<line x1="1941.08" y1="602.8" x2="1941.08" y2="834.55" stroke="#b8b8b8" stroke-dasharray="5.8 8.7"/>
</g>
<g clip-path="url(#c2)" fill="none" stroke-linejoin="round">
<path d="M175.05 704.49L178.05 711L181.05 717.18L185.05 724.98L189.05 732.33L193.05 739.22L196.05 744.06L199.05 748.61L202.05 752.82L205.05 756.68L208.05 760.15L211.05 763.21L214.05 765.83L217.05 768L220.05 769.69L223.05 770.89L226.05 771.59L229.05 771.79L232.05 771.47L235.05 770.66L238.05 769.35L241.05 767.56L244.05 765.3L247.05 762.6L250.05 759.47L253.05 755.95L256.05 752.08L259.05 747.88L263.05 741.84L267.05 735.4L272.05 726.94L285.05 704.3L290.05 695.96L294.05 689.67L297.05 685.24L300.05 681.1L303.05 677.3L306.05 673.86L309.05 670.82L312.05 668.2L315.05 666.03L318.05 664.34L321.05 663.13L324.05 662.41L327.05 662.2L330.05 662.5L333.05 663.29L336.05 664.59L339.05 666.36L342.05 668.6L345.05 671.29L348.05 674.4L351.05 677.91L354.05 681.77L357.05 685.96L361.05 691.98L365.05 698.41L370.05 706.87L383.05 729.51L388.05 737.86L392.05 744.16L395.05 748.6L398.05 752.75L401.05 756.57L404.05 760.02L407.05 763.08L410.05 765.71L413.05 767.89L416.05 769.61L419.05 770.84L422.05 771.57L425.05 771.8L428.05 771.52L431.05 770.75L434.05 769.47L437.05 767.71L440.05 765.49L443.05 762.82L446.05 759.72L449.05 756.23L452.05 752.38L455.05 748.2L459.05 742.19L463.05 735.77L468.05 727.32L481.05 704.68L486.05 696.33L490.05 690.01L493.05 685.56L496.05 681.4L499.05 677.57L502.05 674.1L505.05 671.03L508.05 668.38L511.05 666.18L514.05 664.45L517.05 663.2L520.05 662.45L523.05 662.2L526.05 662.46L529.05 663.22L532.05 664.47L535.05 666.21L538.05 668.42L541.05 671.08L544.05 674.16L547.05 677.63L550.05 681.47L553.05 685.63L557.05 691.63L561.05 698.04L566.05 706.48L579.05 729.13L584.05 737.49L588.05 743.82L591.05 748.28L594.05 752.45L597.05 756.29L600.05 759.77L603.05 762.86L606.05 765.53L609.05 767.75L612.05 769.5L615.05 770.76L618.05 771.53L621.05 771.8L624.05 771.56L627.05 770.82L630.05 769.58L633.05 767.86L636.05 765.67L639.05 763.03L642.05 759.97L645.05 756.51L648.05 752.68L651.05 748.53L655.05 742.54L659.05 736.14L664.05 727.71L677.05 705.07L682.05 696.69L686.05 690.36L689.05 685.89L692.05 681.7L695.05 677.85L698.05 674.35L701.05 671.25L704.05 668.56L707.05 666.33L710.05 664.56L713.05 663.28L716.05 662.49L719.05 662.2L722.05 662.42L725.05 663.14L728.05 664.36L731.05 666.07L734.05 668.24L737.05 670.86L740.05 673.91L743.05 677.36L746.05 681.17L749.05 685.31L753.05 691.28L757.05 697.67L762.05 706.1L775.05 728.74L780.05 737.12L784.05 743.47L787.05 747.95L790.05 752.15L793.05 756.02L796.05 759.53L799.05 762.65L802.05 765.34L805.05 767.6L808.05 769.38L811.05 770.68L814.05 771.49L817.05 771.8L820.05 771.6L823.05 770.89L826.05 769.69L829.05 768.01L832.05 765.85L835.05 763.24L838.05 760.21L841.05 756.78L844.05 752.98L847.05 748.85L851.05 742.89L855.05 736.51L860.05 728.1L874.05 703.74L879.05 695.44L883.05 689.18L886.05 684.78L889.05 680.67L892.05 676.91L895.05 673.51L898.05 670.51L901.05 667.94L904.05 665.83L907.05 664.18L910.05 663.02L913.05 662.37L916.05 662.21L919.05 662.56L922.05 663.41L925.05 664.76L928.05 666.58L931.05 668.87L934.05 671.61L937.05 674.76L940.05 678.31L943.05 682.21L946.05 686.43L950.05 692.49L954.05 698.95L960.05 709.16L971.05 728.36L976.05 736.76L980.05 743.12L984.05 749.06L987.05 753.18L990.05 756.96L993.05 760.37L996.05 763.38L999.05 765.97L1002.05 768.1L1005.05 769.77L1008.05 770.94L1011.05 771.62L1014.05 771.79L1017.05 771.46L1020.05 770.63L1023.05 769.3L1026.05 767.49L1029.05 765.22L1032.05 762.5L1035.05 759.36L1038.05 755.83L1041.05 751.94L1044.05 747.73L1048.05 741.69L1052.05 735.23L1057.05 726.76L1070.05 704.13L1075.05 695.8L1079.05 689.52L1082.05 685.1L1085.05 680.97L1088.05 677.18L1091.05 673.75L1094.05 670.72L1097.05 668.12L1100.05 665.97L1103.05 664.29L1106.05 663.09L1109.05 662.4L1112.05 662.2L1115.05 662.51L1118.05 663.33L1121.05 664.64L1124.05 666.43L1127.05 668.69L1130.05 671.39L1133.05 674.51L1136.05 678.03L1139.05 681.91L1142.05 686.1L1146.05 692.14L1150.05 698.58L1155.05 707.04L1168.05 729.68L1173.05 738.02L1177.05 744.31L1180.05 748.74L1183.05 752.88L1186.05 756.69L1189.05 760.13L1192.05 763.17L1195.05 765.79L1198.05 767.96L1201.05 769.66L1204.05 770.87L1207.05 771.59L1210.05 771.8L1213.05 771.51L1216.05 770.71L1219.05 769.42L1222.05 767.65L1225.05 765.41L1228.05 762.72L1231.05 759.61L1234.05 756.11L1237.05 752.25L1240.05 748.06L1244.05 742.04L1248.05 735.61L1253.05 727.15L1266.05 704.51L1271.05 696.16L1275.05 689.86L1278.05 685.42L1281.05 681.27L1284.05 677.45L1287.05 673.99L1290.05 670.93L1293.05 668.3L1296.05 666.11L1299.05 664.4L1302.05 663.17L1305.05 662.43L1308.05 662.2L1311.05 662.47L1314.05 663.25L1317.05 664.52L1320.05 666.28L1323.05 668.5L1326.05 671.17L1329.05 674.27L1332.05 677.75L1335.05 681.6L1338.05 685.78L1342.05 691.79L1346.05 698.21L1351.05 706.65L1364.05 729.3L1369.05 737.65L1373.05 743.97L1376.05 748.42L1379.05 752.58L1382.05 756.41L1385.05 759.88L1388.05 762.96L1391.05 765.61L1394.05 767.81L1397.05 769.55L1400.05 770.8L1403.05 771.55L1406.05 771.8L1409.05 771.55L1412.05 770.79L1415.05 769.53L1418.05 767.8L1421.05 765.59L1424.05 762.94L1427.05 759.86L1430.05 756.38L1433.05 752.55L1436.05 748.38L1440.05 742.39L1444.05 735.98L1449.05 727.54L1462.05 704.89L1467.05 696.53L1471.05 690.2L1474.05 685.74L1477.05 681.57L1480.05 677.72L1483.05 674.24L1486.05 671.15L1489.05 668.48L1492.05 666.26L1495.05 664.51L1498.05 663.24L1501.05 662.47L1504.05 662.2L1507.05 662.44L1510.05 663.18L1513.05 664.41L1516.05 666.13L1519.05 668.32L1522.05 670.96L1525.05 674.02L1528.05 677.48L1531.05 681.3L1534.05 685.45L1538.05 691.44L1542.05 697.84L1547.05 706.27L1560.05 728.91L1565.05 737.29L1569.05 743.62L1572.05 748.1L1575.05 752.28L1578.05 756.14L1581.05 759.64L1584.05 762.74L1587.05 765.43L1590.05 767.66L1593.05 769.43L1596.05 770.72L1599.05 771.51L1602.05 771.8L1605.05 771.58L1608.05 770.86L1611.05 769.64L1614.05 767.94L1617.05 765.77L1620.05 763.15L1623.05 760.1L1626.05 756.66L1629.05 752.85L1632.05 748.71L1636.05 742.74L1640.05 736.35L1645.05 727.93L1658.05 705.28L1663.05 696.9L1667.05 690.55L1670.05 686.07L1673.05 681.87L1676.05 678L1679.05 674.49L1682.05 671.37L1685.05 668.67L1688.05 666.41L1691.05 664.62L1694.05 663.32L1697.05 662.51L1700.05 662.2L1703.05 662.4L1706.05 663.1L1709.05 664.3L1712.05 665.98L1715.05 668.14L1718.05 670.74L1721.05 673.78L1724.05 677.21L1727.05 681L1730.05 685.13L1734.05 691.09L1738.05 697.47L1743.05 705.88L1757.05 730.24L1762.05 738.54L1766.05 744.8L1769.05 749.21L1772.05 753.31L1775.05 757.08L1778.05 760.48L1781.05 763.48L1784.05 766.05L1787.05 768.17L1790.05 769.81L1793.05 770.97L1796.05 771.63L1799.05 771.79L1802.05 771.44L1805.05 770.59L1808.05 769.25L1811.05 767.43L1814.05 765.14L1817.05 762.4L1820.05 759.25L1823.05 755.71L1826.05 751.81L1829.05 747.59L1833.05 741.53L1837.05 735.07L1842.05 726.59L1855.05 703.96L1860.05 695.64L1864.05 689.37L1867.05 684.95L1870.05 680.84L1873.05 677.06L1876.05 673.64L1879.05 670.63L1882.05 668.04L1885.05 665.91L1888.05 664.24L1891.05 663.06L1894.05 662.38L1897.05 662.21L1900.05 662.53L1903.05 663.36L1906.05 664.69L1909.05 666.5L1912.05 668.77L1915.05 671.49L1918.05 674.63L1921.05 678.15L1924.05 682.04L1927.05 686.25L1931.05 692.29L1935.05 698.74L1940.05 707.22L1953.05 729.85L1958.05 738.18L1962.05 744.46L1965.05 748.89L1968.05 753.01L1971.05 756.81L1974.05 760.24L1977.05 763.27L1980.05 765.87L1983.05 768.02L1986.05 769.71L1989.05 770.9L1992.05 771.6L1995.05 771.8L1998.05 771.49L2001.05 770.68L2004.05 769.37L2007.05 767.58L2010.05 765.32L2013.05 762.62L2016.05 759.5L2019.05 755.99L2022.05 752.11L2025.05 747.91L2029.05 741.88L2033.05 735.44L2038.05 726.98L2051.05 704.34L2056.05 696L2060.05 689.71L2063.05 685.28L2066.05 681.14L2069.05 677.33L2072.05 673.88L2075.05 670.84L2078.05 668.22L2081.05 666.05L2084.05 664.35L2087.05 663.13L2090.05 662.42L2093.05 662.2L2096.05 662.49L2099.05 663.29L2102.05 664.57L2105.05 666.35L2108.05 668.58L2111.05 671.27L2114.05 674.38L2117.05 677.88L2120.05 681.74L2123.05 685.92L2127.05 691.94L2131.05 698.37L2136.05 706.83L2137.05 708.56" stroke="#ff0000" stroke-width="3.6"/>
<path d="M175.05 706.92L178.05 713.36L179.56 716.44M185.36 727.57L189.05 734.1L191.93 738.88M199.14 749.65L202.05 753.47L205.05 757.05L208.04 760.24M219.98 768.95L223.05 770.07L226.05 770.71L229.05 770.89L232.05 770.6L235.05 769.87L237.26 769.03M249.3 760.39L252.05 757.51L255.05 754.03L258.32 749.84M265.73 739.12L270.05 732.25L272.67 727.92M279.12 716.93L285.72 705.64M292.37 694.7L296.05 689.04L299.83 683.64M308.44 673.32L311.05 670.84L314.05 668.42L317.05 666.48L320.05 665.04L321.08 664.66M337.41 666.99L340.05 668.79L343.05 671.29L346.05 674.23L348.3 676.72M356.33 687.24L360.05 692.85L363.52 698.38M370.06 709.34L376.64 720.64M383.16 731.61L388.05 739.41L390.27 742.77M398.03 753.38L401.05 756.96L404.05 760.15L407.05 762.96L407.83 763.62M421.85 770.66L424.05 770.88L427.05 770.78L430.05 770.23L433.05 769.22L436.05 767.77L438.26 766.42M448.8 756.92L452.05 753.07L455.05 749.17L457.22 746.16M464.35 735.36L469.05 727.66L471.15 724.12M477.56 713.12L484.21 701.84M491.01 690.95L494.05 686.44L497.05 682.29L498.82 679.99M508.27 669.99L511.05 667.87L514.05 666.06L517.05 664.75L520.05 663.96L523.05 663.7L523.3 663.71M537.81 670.02L540.05 672.01L543.05 675.06L546.05 678.52L547.48 680.31M555.06 690.97L559.05 697.25L562.04 702.17M568.51 713.15L575.1 724.45M581.72 735.39L586.05 742.11L589.06 746.49M597.27 756.95L600.05 759.92L603.05 762.76L606.05 765.2L608.18 766.67M624.25 770.65L627.05 770.01L630.05 768.89L633.05 767.32L636.05 765.33L638.55 763.34M648.04 753.36L651.05 749.47L654.05 745.3L656 742.44M662.91 731.58L669.05 721.26L669.6 720.31M676.01 709.31L682.05 699.16L682.73 698.05M689.74 687.22L693.05 682.59L696.05 678.74L698.02 676.41M708.67 666.97L711.05 665.67L714.05 664.5L717.05 663.84L720.05 663.72L723.05 664.13L725.45 664.84M737.63 673.34L740.05 675.92L743.05 679.48L746.46 683.96M753.7 694.73L758.05 701.8L760.53 705.97M766.94 716.96L773.58 728.25M780.33 739.15L784.05 744.72L787.05 748.93L787.97 750.16M796.77 760.41L800.05 763.43L803.05 765.76L806.05 767.67L809.05 769.15L809.25 769.23M826.11 768.96L829.05 767.46L832.05 765.49L835.05 763.11L838.36 760M847.09 749.72L850.05 745.62L854.05 739.68L854.68 738.7M861.42 727.79L868.05 716.5M874.47 705.51L879.05 697.9L881.31 694.28M888.59 683.52L892.05 679.01L895.05 675.5L897.5 672.93M909.94 664.6L912.05 664.05L915.05 663.71L918.05 663.9L921.05 664.61L924.05 665.85L926.6 667.31M937.08 676.83L940.05 680.46L943.05 684.47L945.29 687.66M952.27 698.51L958.05 708.17L958.99 709.77M965.39 720.77L971.05 730.32L972.09 732.04M979.03 742.89L982.05 747.25L985.05 751.29L987.03 753.79M996.64 763.72L999.05 765.6L1002.05 767.54L1005.05 769.06L1008.05 770.12L1011.05 770.74L1011.21 770.75M1027.08 766.33L1030.05 764.13L1033.05 761.51L1036.05 758.49L1037.83 756.53M1045.98 746.04L1050.05 740.03L1053.29 734.93M1059.9 723.99L1066.49 712.69M1072.95 701.71L1077.05 695.05L1079.96 690.52M1087.59 679.87L1090.05 676.89L1093.05 673.61L1096.05 670.75L1097.38 669.63M1112.18 663.71L1115.05 664.03L1118.05 664.89L1121.05 666.26L1124.05 668.13L1126.92 670.38M1136.25 680.42L1139.05 684.15L1142.05 688.44L1144.01 691.4M1150.79 702.29L1157.43 713.58M1163.85 724.57L1169.05 733.23L1170.66 735.81M1177.82 746.61L1181.05 751L1184.05 754.75L1186.3 757.35M1197 766.77L1200.05 768.49L1203.05 769.74L1206.05 770.54L1209.05 770.89L1212.05 770.77L1213.6 770.53M1227.35 763.23L1230.05 760.76L1233.05 757.65L1236.05 754.18L1237.05 752.95M1244.76 742.32L1249.05 735.68L1251.84 731.15M1258.35 720.19L1264.93 708.88M1271.48 697.93L1275.05 692.26L1278.71 686.8M1286.8 676.29L1290.05 672.83L1293.05 670.09L1296.05 667.8L1297.86 666.66M1314.3 664.9L1317.05 666.14L1320.05 667.98L1323.05 670.3L1326.05 673.08L1326.69 673.73M1335.22 684.08L1339.05 689.6L1342.64 695.16M1349.28 706.09L1355.87 717.39M1362.33 728.37L1367.05 736.08L1369.28 739.58M1376.73 750.28L1380.05 754.48L1383.05 757.93L1385.84 760.8M1398.09 769.3L1401.05 770.27L1404.05 770.8L1407.05 770.87L1410.05 770.49L1413.05 769.65L1415.36 768.7M1427.15 759.89L1430.05 756.79L1433.05 753.23L1436.07 749.31M1443.44 738.58L1448.05 731.19L1450.35 727.36M1456.79 716.38L1463.4 705.08M1470.06 694.15L1474.05 688.08L1477.57 683.1M1486.29 672.82L1489.05 670.28L1492.05 667.96L1495.05 666.12L1498.05 664.79L1499.25 664.41M1515.42 667.41L1518.05 669.29L1521.05 671.89L1524.05 674.93L1526.1 677.23M1534.05 687.78L1538.05 693.86L1541.21 698.93M1547.73 709.9L1554.31 721.2M1560.84 732.16L1565.05 738.87L1567.99 743.31M1575.81 753.91L1579.05 757.68L1582.05 760.79L1585.05 763.51L1585.75 764.08M1600.09 770.78L1603.05 770.88L1606.05 770.54L1609.05 769.73L1612.05 768.48L1615.05 766.79L1616.24 765.99M1626.61 756.41L1630.05 752.25L1633.05 748.29L1634.95 745.62M1642.05 734.81L1647.05 726.57L1648.83 723.56M1655.23 712.57L1661.89 701.28M1668.72 690.4L1672.05 685.52L1675.05 681.43L1676.59 679.46M1686.18 669.53L1689.05 667.44L1692.05 665.73L1695.05 664.53L1698.05 663.86L1701.05 663.71L1701.55 663.75M1715.72 670.49L1718.05 672.63L1721.05 675.78L1724.05 679.32L1725.24 680.84M1732.77 691.52L1737.05 698.3L1739.73 702.72M1746.18 713.71L1752.77 725M1759.41 735.94L1763.05 741.58L1766.79 747.02M1775.08 757.46L1778.05 760.57L1781.05 763.32L1784.05 765.67L1786.18 767.09M1802.47 770.49L1805.05 769.81L1808.05 768.59L1811.05 766.93L1814.05 764.84L1816.45 762.86M1825.81 752.83L1829.05 748.59L1833.05 742.89L1833.71 741.9M1840.59 731.03L1847.28 719.75M1853.68 708.76L1859.05 699.74L1860.42 697.5M1867.47 686.67L1871.05 681.72L1874.05 677.95L1875.83 675.89M1886.69 666.58L1889.05 665.37L1892.05 664.31L1895.05 663.77L1898.05 663.76L1901.05 664.28L1903.58 665.14M1915.47 673.84L1918.05 676.66L1921.05 680.3L1924.2 684.5M1931.4 695.28L1936.05 702.89L1938.21 706.52M1944.62 717.52L1951.26 728.8M1958.04 739.7L1962.05 745.66L1965.72 750.7M1974.63 760.91L1977.05 763.13L1980.05 765.51L1983.05 767.47L1986.05 769L1987.38 769.53M2004.2 768.62L2007.05 767.07L2010.05 765.01L2013.05 762.54L2016.2 759.51M2024.84 749.19L2028.05 744.69L2032.05 738.68L2032.38 738.15M2039.1 727.24L2045.72 715.95M2052.14 704.96L2057.05 696.85L2059.01 693.73M2066.33 682.98L2069.05 679.45L2072.05 675.89L2075.05 672.73L2075.35 672.44M2088.11 664.36L2091.05 663.79L2094.05 663.74L2097.05 664.23L2100.05 665.23L2103.05 666.75L2104.59 667.73M2114.87 677.35L2118.05 681.3L2121.05 685.37L2123.01 688.21M2129.96 699.06L2136.05 709.28L2136.66 710.33" stroke="#0000ff" stroke-width="3.1"/>
</g>
<g stroke="#000" stroke-width="3.6" fill="none">
<line x1="175.05" y1="626.3" x2="180.5" y2="626.3"/>
<line x1="2137.3" y1="626.3" x2="2131.85" y2="626.3"/>
<line x1="175.05" y1="657.3" x2="185.7" y2="657.3"/>
<line x1="2137.3" y1="657.3" x2="2126.65" y2="657.3"/>
<line x1="175.05" y1="687.1" x2="180.5" y2="687.1"/>
<line x1="2137.3" y1="687.1" x2="2131.85" y2="687.1"/>
<line x1="175.05" y1="717.8" x2="185.7" y2="717.8"/>
<line x1="2137.3" y1="717.8" x2="2126.65" y2="717.8"/>
<line x1="175.05" y1="747.8" x2="180.5" y2="747.8"/>
<line x1="2137.3" y1="747.8" x2="2131.85" y2="747.8"/>
<line x1="175.05" y1="777.3" x2="185.7" y2="777.3"/>
<line x1="2137.3" y1="777.3" x2="2126.65" y2="777.3"/>
<line x1="175.05" y1="808.4" x2="180.5" y2="808.4"/>
<line x1="2137.3" y1="808.4" x2="2131.85" y2="808.4"/>
<line x1="371.28" y1="595.55" x2="371.28" y2="600.2"/>
<line x1="371.28" y1="839.4" x2="371.28" y2="834.75"/>
<line x1="567.5" y1="595.55" x2="567.5" y2="605.9"/>
<line x1="567.5" y1="839.4" x2="567.5" y2="829.05"/>
<line x1="763.73" y1="595.55" x2="763.73" y2="600.2"/>
<line x1="763.73" y1="839.4" x2="763.73" y2="834.75"/>
<line x1="959.95" y1="595.55" x2="959.95" y2="605.9"/>
<line x1="959.95" y1="839.4" x2="959.95" y2="829.05"/>
<line x1="1156.18" y1="595.55" x2="1156.18" y2="600.2"/>
<line x1="1156.18" y1="839.4" x2="1156.18" y2="834.75"/>
<line x1="1352.4" y1="595.55" x2="1352.4" y2="605.9"/>
<line x1="1352.4" y1="839.4" x2="1352.4" y2="829.05"/>
<line x1="1548.63" y1="595.55" x2="1548.63" y2="600.2"/>
<line x1="1548.63" y1="839.4" x2="1548.63" y2="834.75"/>
<line x1="1744.85" y1="595.55" x2="1744.85" y2="605.9"/>
<line x1="1744.85" y1="839.4" x2="1744.85" y2="829.05"/>
<line x1="1941.08" y1="595.55" x2="1941.08" y2="600.2"/>
<line x1="1941.08" y1="839.4" x2="1941.08" y2="834.75"/>
</g>
<rect x="175.05" y="595.55" width="1962.25" height="243.85" fill="none" stroke="#000" stroke-width="3.7"/>
</g>
<g>
<g fill="none" stroke-width="1.15">
<line x1="190.1" y1="915.6" x2="2127.75" y2="915.6" stroke="#b9b9b9" stroke-dasharray="2.8 3.2"/>
<line x1="190.1" y1="950.2" x2="2127.75" y2="950.2" stroke="#b9b9b9" stroke-dasharray="2.8 3.2"/>
<line x1="190.1" y1="984.6" x2="2127.75" y2="984.6" stroke="#b9b9b9" stroke-dasharray="2.8 3.2"/>
<line x1="190.1" y1="1019" x2="2127.75" y2="1019" stroke="#b9b9b9" stroke-dasharray="2.8 3.2"/>
<line x1="190.1" y1="1053.5" x2="2127.75" y2="1053.5" stroke="#b9b9b9" stroke-dasharray="2.8 3.2"/>
<line x1="190.1" y1="1089.3" x2="2127.75" y2="1089.3" stroke="#b9b9b9" stroke-dasharray="2.8 3.2"/>
<line x1="373.51" y1="887.15" x2="373.51" y2="1118.95" stroke="#b8b8b8" stroke-dasharray="5.8 8.7"/>
<line x1="569.78" y1="891.75" x2="569.78" y2="1112.95" stroke="#b8b8b8" stroke-dasharray="2.3 4.8"/>
<line x1="766.05" y1="887.15" x2="766.05" y2="1118.95" stroke="#b8b8b8" stroke-dasharray="5.8 8.7"/>
<line x1="962.31" y1="891.75" x2="962.31" y2="1112.95" stroke="#b8b8b8" stroke-dasharray="2.3 4.8"/>
<line x1="1158.58" y1="887.15" x2="1158.58" y2="1118.95" stroke="#b8b8b8" stroke-dasharray="5.8 8.7"/>
<line x1="1354.84" y1="891.75" x2="1354.84" y2="1112.95" stroke="#b8b8b8" stroke-dasharray="2.3 4.8"/>
<line x1="1551.11" y1="887.15" x2="1551.11" y2="1118.95" stroke="#b8b8b8" stroke-dasharray="5.8 8.7"/>
<line x1="1747.37" y1="891.75" x2="1747.37" y2="1112.95" stroke="#b8b8b8" stroke-dasharray="2.3 4.8"/>
<line x1="1943.64" y1="887.15" x2="1943.64" y2="1118.95" stroke="#b8b8b8" stroke-dasharray="5.8 8.7"/>
</g>
<g clip-path="url(#c3)" fill="none" stroke-linejoin="round">
<path d="M177.25 951.4L180.25 945.43L182.25 941.11L185.25 934.09L186.25 931.89L188.25 927.84L192.25 920.11L194.25 916.11L195.25 914.22L198.25 909.16L200.25 906.11L202.25 903.38L204.25 900.95L207.25 897.75L210.25 894.85L212.25 893.16L214.25 891.79L217.25 890.09L221.25 888.38L223.25 887.63L225.25 887.22L227.25 887.29L231.25 888.06L233.25 888.82L237.25 890.7L240.25 892.44L242.25 893.88L245.25 896.54L251.25 902.26L261.25 911.68L270.25 920.55L279.25 929.88L286.25 936.55L289.25 939.05L295.25 943.23L298.25 945.05L301.25 946.54L304.25 947.59L309.25 948.98L313.25 949.75L317.25 950.08L327.25 950.4L330.25 950.33L334.25 949.83L342.25 948.28L347.25 946.83L349.25 946.47L351.25 946.42L354.25 946.7L360.25 947.85L363.25 948.68L367.25 950.22L369.25 951.26L372.25 952.94L375.25 954.27L377.25 955.45L383.25 960.23L388.25 964.5L393.25 969.06L396.25 972.12L399.25 975.65L402.25 979.68L404.25 982.63L406.25 985.84L408.25 989.37L411.25 995.11L414.25 1001.25L417.25 1007.91L421.25 1017.1L425.25 1026.49L427.25 1030.95L430.25 1037.17L434.25 1045.35L437.25 1051.98L441.25 1061.12L443.25 1065.42L446.25 1071.5L455.25 1088.91L457.25 1092.61L460.25 1097.72L463.25 1102.46L465.25 1105.34L467.25 1107.91L470.25 1111.32L473.25 1114.28L476.25 1116.74L478.25 1118.17L480.25 1119.32L482.25 1120.21L483.25 1120.54L484.25 1120.71L485.25 1120.68L487.25 1120.15L490.25 1118.92L493.25 1117.22L496.25 1115.07L498.25 1113.34L500.25 1111.25L503.25 1107.67L506.25 1103.77L509.25 1099.41L512.25 1094.66L515.25 1089.57L518.25 1084.04L520.25 1080.09L522.25 1075.89L524.25 1071.4L527.25 1064.28L530.25 1056.81L534.25 1046.4L539.25 1034.01L540.25 1031.4L541.25 1028.66L543.25 1022.85L550.25 1001.91L552.25 996.31L555.25 988.5L559.25 978.6L564.25 965.74L566.25 960.85L568.25 956.28L569.25 954.04L570.25 951.66L571.25 949.06L573.25 943.59L574.25 941.01L575.25 938.63L576.25 936.43L578.25 932.36L584.25 920.84L586.25 917.18L589.25 912.15L592.25 907.56L595.25 903.44L598.25 899.75L600.25 897.57L603.25 894.82L605.25 893.24L607.25 891.94L610.25 890.47L612.25 889.7L614.25 889.22L618.25 888.71L620.25 888.62L622.25 888.8L624.25 889.35L628.25 890.94L631.25 892.59L634.25 894.59L637.25 896.99L646.25 904.6L650.25 908.36L657.25 915.51L669.25 928.25L672.25 931.11L676.25 934.55L680.25 937.61L684.25 940.37L688.25 942.7L692.25 944.69L695.25 945.82L699.25 946.91L703.25 947.61L710.25 948.22L715.25 948.27L721.25 947.98L727.25 947.08L729.25 947.04L733.25 947.49L737.25 948L749.25 948.72L752.25 949.2L762.25 951.69L765.25 952.7L767.25 953.67L769.25 955.02L777.25 961.44L783.25 966.7L787.25 970.5L790.25 973.78L793.25 977.55L796.25 981.81L798.25 984.94L800.25 988.39L803.25 994.05L806.25 1000.11L809.25 1006.69L814.25 1018.18L818.25 1027.54L820.25 1031.94L826.25 1044.21L828.25 1048.51L834.25 1062.13L837.25 1068.42L841.25 1076.29L848.25 1089.78L850.25 1093.43L853.25 1098.47L856.25 1103.15L858.25 1105.95L860.25 1108.46L863.25 1111.81L866.25 1114.69L869.25 1117.09L871.25 1118.46L873.25 1119.55L875.25 1120.38L876.25 1120.64L877.25 1120.72L878.25 1120.6L880.25 1119.98L883.25 1118.69L886.25 1116.91L889.25 1114.7L891.25 1112.88L893.25 1110.72L896.25 1107.09L899.25 1103.13L902.25 1098.7L905.25 1093.91L908.25 1088.75L911.25 1083.15L913.25 1079.15L915.25 1074.88L918.25 1067.98L921.25 1060.71L924.25 1053L927.25 1045.24L931.25 1035.38L933.25 1030.15L935.25 1024.46L942.25 1003.49L944.25 997.78L946.25 992.44L949.25 984.86L952.25 977.44L956.25 967.09L959.25 959.76L962.25 952.97L963.25 950.49L966.25 942.38L967.25 939.89L968.25 937.59L970.25 933.43L977.25 919.98L979.25 916.38L982.25 911.42L985.25 906.9L988.25 902.85L991.25 899.22L993.25 897.12L996.25 894.44L998.25 892.91L1000.25 891.69L1003.25 890.27L1005.25 889.57L1008.25 888.99L1012.25 888.63L1014.25 888.72L1016.25 889.18L1020.25 890.69L1023.25 892.26L1026.25 894.2L1029.25 896.54L1038.25 904.12L1042.25 907.83L1049.25 914.94L1061.25 927.71L1064.25 930.62L1068.25 934.1L1072.25 937.22L1076.25 940.02L1080.25 942.41L1084.25 944.45L1087.25 945.65L1091.25 946.78L1095.25 947.54L1102.25 948.19L1107.25 948.28L1114.25 947.93L1119.25 947.13L1121.25 947.02L1124.25 947.27L1130.25 948.04L1141.25 948.67L1144.25 949.09L1154.25 951.53L1157.25 952.5L1159.25 953.37L1161.25 954.62L1169.25 960.99L1175.25 966.22L1179.25 969.96L1182.25 973.15L1185.25 976.84L1188.25 981.01L1190.25 984.07L1192.25 987.43L1194.25 991.09L1197.25 996.95L1199.25 1001.08L1202.25 1007.73L1206.25 1016.91L1210.25 1026.31L1212.25 1030.78L1215.25 1037.01L1219.25 1045.18L1221.25 1049.54L1226.25 1060.94L1228.25 1065.26L1231.25 1071.34L1240.25 1088.76L1242.25 1092.47L1245.25 1097.59L1248.25 1102.34L1250.25 1105.23L1252.25 1107.81L1255.25 1111.24L1258.25 1114.21L1261.25 1116.68L1263.25 1118.12L1265.25 1119.28L1267.25 1120.18L1268.25 1120.52L1269.25 1120.7L1270.25 1120.69L1272.25 1120.18L1275.25 1118.95L1278.25 1117.27L1281.25 1115.14L1283.25 1113.41L1285.25 1111.34L1288.25 1107.77L1291.25 1103.88L1294.25 1099.53L1297.25 1094.79L1300.25 1089.71L1303.25 1084.19L1305.25 1080.25L1307.25 1076.06L1309.25 1071.58L1312.25 1064.47L1315.25 1057.02L1319.25 1046.6L1324.25 1034.21L1325.25 1031.61L1326.25 1028.88L1328.25 1023.09L1335.25 1002.14L1337.25 996.52L1340.25 988.7L1345.25 976.26L1349.25 965.94L1351.25 961.04L1353.25 956.46L1354.25 954.22L1355.25 951.86L1356.25 949.27L1358.25 943.81L1359.25 941.21L1360.25 938.81L1361.25 936.6L1363.25 932.51L1369.25 920.99L1371.25 917.32L1373.25 913.91L1376.25 909.17L1379.25 904.87L1382.25 901.03L1384.25 898.71L1386.25 896.67L1389.25 894.07L1391.25 892.6L1393.25 891.45L1396.25 890.09L1398.25 889.44L1401.25 888.93L1405.25 888.62L1407.25 888.79L1409.25 889.33L1413.25 890.9L1416.25 892.54L1419.25 894.53L1422.25 896.92L1431.25 904.53L1435.25 908.28L1442.25 915.42L1454.25 928.17L1457.25 931.04L1461.25 934.48L1465.25 937.55L1469.25 940.31L1473.25 942.66L1477.25 944.66L1480.25 945.8L1484.25 946.89L1488.25 947.6L1495.25 948.21L1500.25 948.27L1506.25 947.98L1510.25 947.37L1513.25 947.03L1516.25 947.2L1522.25 947.99L1534.25 948.71L1537.25 949.18L1547.25 951.66L1550.25 952.67L1552.25 953.62L1554.25 954.96L1562.25 961.37L1568.25 966.63L1572.25 970.42L1575.25 973.68L1578.25 977.45L1581.25 981.69L1583.25 984.81L1585.25 988.25L1588.25 993.89L1591.25 999.94L1594.25 1006.51L1599.25 1017.99L1603.25 1027.36L1605.25 1031.77L1609.25 1039.96L1612.25 1046.16L1615.25 1052.85L1619.25 1061.95L1621.25 1066.21L1624.25 1072.24L1633.25 1089.63L1635.25 1093.29L1638.25 1098.34L1641.25 1103.03L1643.25 1105.85L1645.25 1108.36L1648.25 1111.72L1651.25 1114.62L1654.25 1117.03L1656.25 1118.41L1658.25 1119.51L1660.25 1120.35L1661.25 1120.63L1662.25 1120.72L1663.25 1120.62L1665.25 1120.01L1668.25 1118.73L1671.25 1116.97L1674.25 1114.77L1676.25 1112.96L1678.25 1110.82L1681.25 1107.19L1684.25 1103.24L1687.25 1098.83L1690.25 1094.04L1693.25 1088.89L1696.25 1083.3L1698.25 1079.31L1700.25 1075.05L1703.25 1068.17L1706.25 1060.91L1709.25 1053.21L1712.25 1045.44L1716.25 1035.58L1718.25 1030.37L1720.25 1024.69L1727.25 1003.73L1729.25 998L1731.25 992.65L1734.25 985.06L1737.25 977.64L1741.25 967.29L1744.25 959.95L1747.25 953.16L1748.25 950.69L1751.25 942.59L1752.25 940.08L1753.25 937.77L1755.25 933.59L1762.25 920.13L1764.25 916.52L1767.25 911.55L1770.25 907.01L1773.25 902.95L1776.25 899.32L1778.25 897.19L1781.25 894.5L1783.25 892.97L1785.25 891.73L1788.25 890.3L1790.25 889.59L1793.25 889L1797.25 888.63L1799.25 888.71L1801.25 889.15L1805.25 890.66L1808.25 892.21L1811.25 894.15L1814.25 896.47L1824.25 904.94L1828.25 908.73L1835.25 915.91L1846.25 927.62L1849.25 930.54L1853.25 934.04L1857.25 937.16L1861.25 939.96L1864.25 941.81L1869.25 944.41L1872.25 945.62L1876.25 946.76L1880.25 947.53L1887.25 948.18L1892.25 948.28L1899.25 947.94L1905.25 947.05L1908.25 947.14L1915.25 948.03L1926.25 948.66L1929.25 949.08L1939.25 951.51L1942.25 952.47L1944.25 953.33L1946.25 954.56L1954.25 960.92L1960.25 966.15L1964.25 969.88L1967.25 973.06L1970.25 976.73L1973.25 980.89L1975.25 983.94L1977.25 987.29L1979.25 990.94L1982.25 996.78L1984.25 1000.91L1987.25 1007.55L1992.25 1019.07L1995.25 1026.12L1997.25 1030.6L2000.25 1036.85L2004.25 1045.01L2006.25 1049.36L2011.25 1060.76L2013.25 1065.09L2016.25 1071.18L2025.25 1088.61L2028.25 1094.1L2031.25 1099.09L2034.25 1103.7L2036.25 1106.45L2039.25 1110.05L2042.25 1113.2L2045.25 1115.84L2048.25 1118.06L2050.25 1119.24L2052.25 1120.15L2053.25 1120.5L2054.25 1120.7L2055.25 1120.7L2056.25 1120.51L2059.25 1119.43L2062.25 1117.93L2065.25 1115.95L2067.25 1114.39L2069.25 1112.5L2071.25 1110.28L2074.25 1106.61L2077.25 1102.6L2080.25 1098.11L2083.25 1093.28L2086.25 1088.07L2089.25 1082.41L2091.25 1078.36L2093.25 1074.03L2096.25 1067.07L2099.25 1059.76L2104.25 1046.81L2109.25 1034.42L2111.25 1029.11L2113.25 1023.33L2120.25 1002.38L2122.25 996.74L2124.25 991.46L2127.25 983.93L2130.25 976.46L2134.25 966.14L2136.25 961.23L2138.25 956.64L2139.9 953.49" stroke="#ff0000" stroke-width="3.6"/>
<path d="M177.25 951.38L180.25 945.52L181.95 941.92M187.31 930.08L193.25 918.68L193.56 918.07M200.46 906.61L202.25 904.22L204.25 901.84L207.25 898.69L210.28 895.82M224.49 888.46L225.25 888.35L227.25 888.43L231.25 889.18L233.25 889.92L237.25 891.77L240.25 893.48L240.67 893.76M251.71 903.54L262.25 913.32L262.74 913.79M273.08 923.95L279.25 930.25L283.65 934.42M295.67 943.62L299.25 945.67L302.25 947L308.25 948.76L311.83 949.53M329.75 950.35L333.25 949.99L342.25 948.31L347.46 946.85M364.74 949.23L368.25 950.69L372.25 952.89L375.25 954.2L377.25 955.36L379.33 956.96M390.82 966.51L394.25 969.68L397.25 972.83L400.25 976.46L400.82 977.22M408.18 988.54L411.25 994.31L414.25 1000.33L414.36 1000.56M419.72 1012.41L425.04 1024.63M430.66 1036.42L434.25 1043.64L436.52 1048.53M441.84 1060.39L444.25 1065.38L447.88 1072.44M454.03 1084.11L457.25 1090.05L460.25 1095.07L460.82 1095.98M468.96 1107.03L471.25 1109.44L474.25 1112.18L477.25 1114.47L479.25 1115.75L480.98 1116.62M495.99 1112.3L498.25 1110.4L500.25 1108.35L503.25 1104.83L505.85 1101.54M513.36 1090.26L516.25 1085.3L519.25 1079.72L519.95 1078.34M525.42 1066.52L528.25 1059.83L530.5 1054.25M535.22 1042.27L539.25 1032.5L540.23 1029.99M544.48 1017.92L548.69 1005.5M553.02 993.45L555.25 987.81L557.99 981.16M562.75 969.19L565.25 963.03L567.25 958.37L567.9 956.94M572.77 944.99L574.25 941.18L575.25 938.84L577.25 934.64L578.19 932.8M584.38 921.14L587.25 916.07L590.25 911.29L591.53 909.38M600.24 898.53L603.25 895.82L605.25 894.27L607.25 892.99L610.25 891.54L612.25 890.79L614.01 890.36M630.57 893.22L634.25 895.59L637.25 897.95L642.97 902.66M653.77 912.59L660.25 919.28L664.01 923.21M674.42 933.33L678.25 936.38L683.25 939.9L687.25 942.3L687.41 942.38M703.45 947.68L710.25 948.25L715.25 948.3L721.87 947.95M739.6 948.19L748.25 948.65L751.25 949.03L757.68 950.5M772.29 957.31L778.25 962.07L784.07 967.14M793.67 977.62L796.25 981.24L798.25 984.32L800.25 987.7L801.13 989.29M807.1 1000.99L810.25 1007.9L812.6 1013.18M817.77 1025.07L820.25 1030.46L823.58 1037.18M829.26 1048.96L834.25 1060.11L834.74 1061.14M840.65 1072.87L846.96 1084.86M853.62 1096.39L856.25 1100.39L858.25 1103.15L860.25 1105.61L862.12 1107.71M874.08 1116.86L875.25 1117.32L876.25 1117.58L877.25 1117.65L878.25 1117.53L880.25 1116.92L883.25 1115.66L886.25 1113.91L889.3 1111.7M898.69 1101.14L901.25 1097.53L904.25 1092.92L906.34 1089.52M912.71 1077.91L915.25 1072.63L918.29 1065.75M923.21 1053.81L927.25 1043.53L928.08 1041.5M932.93 1029.55L934.25 1025.97L937.28 1017.15M941.38 1005.06L943.25 999.68L945.25 994.27L945.86 992.68M950.71 980.73L953.25 974.41L955.6 968.42M960.64 956.51L962.25 952.92L963.25 950.48L965.6 944.22M970.95 932.37L977.32 920.39M984.35 908.97L987.25 904.98L990.25 901.28L992.25 899.07L993.46 897.88M1007.19 890.25L1011.25 889.79L1013.25 889.74L1015.25 890.01L1018.25 890.97L1021.25 892.22L1023.98 893.75M1035.94 903.01L1040.25 906.72L1045.25 911.53L1046.96 913.25M1056.91 923.59L1062.25 929.1L1066.25 932.73L1067.7 933.94M1080.47 942.66L1084.25 944.55L1087.25 945.73L1092.25 947.07L1096.25 947.71L1097.14 947.8M1115.06 947.87L1119.25 947.19L1121.25 947.08L1124.25 947.32L1130.25 948.08L1133.3 948.25M1150.84 950.65L1155.25 951.8L1158.25 952.85L1160.25 953.88L1162.25 955.27L1165.59 957.91M1177.01 967.5L1180.25 970.6L1183.25 973.89L1186.25 977.67L1186.73 978.33M1193.9 989.71L1197.25 996.1L1200 1001.75M1205.33 1013.61L1210.65 1025.83M1216.34 1037.61L1219.25 1043.47L1222.14 1049.72M1227.48 1061.58L1230.25 1067.2L1233.58 1073.62M1239.73 1085.29L1242.25 1089.91L1245.25 1094.94L1246.63 1097.12M1255.02 1108.09L1257.25 1110.34L1260.25 1112.92L1263.25 1115.09L1265.25 1116.24L1267.63 1117.25M1282.26 1111.35L1284.25 1109.49L1287.25 1106.14L1290.25 1102.43L1291.75 1100.42M1299.13 1089.1L1302.25 1083.64L1305.25 1077.91L1305.62 1077.16M1311.02 1065.32L1314.25 1057.59L1316.05 1053.04M1320.8 1041.07L1324.25 1032.7L1325.76 1028.78M1329.97 1016.71L1334.19 1004.28M1338.57 992.24L1341.25 985.55L1343.56 979.96M1348.31 967.98L1351.25 960.85L1353.52 955.74M1358.31 943.78L1359.25 941.37L1360.25 939.02L1361.25 936.84L1363.25 932.83L1363.89 931.62M1370.1 919.97L1372.25 916.21L1375.25 911.41L1377.39 908.25M1386.39 897.51L1389.25 895.08L1391.25 893.64L1393.25 892.5L1396.25 891.17L1398.25 890.54L1400.86 890.09M1417.01 894.05L1420.25 896.27L1429.22 903.62M1439.88 913.62L1450.08 924.26M1460.67 934.29L1465.25 937.78L1469.25 940.49L1473.25 942.79L1473.93 943.15M1490.33 947.86L1496.25 948.29L1502.25 948.24L1507.25 947.92L1508.73 947.69M1526.49 948.28L1534.25 948.74L1537.25 949.2L1544.47 950.91M1558.57 958.25L1564.25 962.85L1570.25 968.14M1579.57 978.74L1582.25 982.62L1584.25 985.84L1586.84 990.46M1592.74 1002.19L1597.25 1012.21L1598.21 1014.37M1603.38 1026.26L1605.25 1030.3L1609.26 1038.36M1614.87 1050.16L1619.25 1059.94L1620.38 1062.33M1626.35 1074.05L1632.67 1086.04M1639.43 1097.54L1642.25 1101.7L1644.25 1104.32L1647.25 1107.76L1648.19 1108.76M1660.77 1117.43L1662.25 1117.65L1663.25 1117.55L1665.25 1116.95L1668.25 1115.7L1671.25 1113.97L1674.25 1111.81L1675.51 1110.72M1684.59 1100.02L1687.25 1096.15L1690.25 1091.45L1692.11 1088.36M1698.38 1076.73L1700.25 1072.81L1703.25 1066.04L1703.89 1064.55M1708.77 1052.6L1712.25 1043.72L1713.66 1040.3M1718.47 1028.34L1720.25 1023.35L1722.78 1015.93M1726.88 1003.84L1728.25 999.9L1730.25 994.47L1731.41 991.47M1736.29 979.52L1739.25 972.05L1741.16 967.21M1746.26 955.31L1747.25 953.11L1748.25 950.69L1751.14 943.01M1756.65 931.19L1762.25 920.67L1763.05 919.22M1770.22 907.84L1773.25 903.8L1776.25 900.23L1778.25 898.15L1779.63 896.88M1794.05 890.01L1797.25 889.74L1799.25 889.81L1801.25 890.25L1805.25 891.73L1808.25 893.26L1810.4 894.59M1822.18 903.97L1826.25 907.57L1832.25 913.45L1833.07 914.28M1842.98 924.64L1847.25 929.02L1851.25 932.66L1853.96 934.9M1866.99 943.42L1870.25 944.95L1873.25 946.02L1877.25 947.05L1881.25 947.7L1884.01 947.97M1901.9 947.58L1905.25 947.11L1908.25 947.2L1915.25 948.07L1920.19 948.33M1937.63 951.07L1941.25 952.08L1943.25 952.81L1945.25 953.83L1947.25 955.21L1951.88 958.84M1963.18 968.5L1966.25 971.56L1969.25 975L1972.25 978.93L1972.62 979.45M1979.61 990.88L1982.25 995.95L1984.25 1000L1985.63 1002.95M1990.94 1014.81L1995.25 1024.76L1996.27 1027.03M2002.02 1038.79L2005.25 1045.41L2007.75 1050.92M2013.13 1062.76L2016.25 1069L2019.28 1074.8M2025.44 1086.46L2028.25 1091.5L2031.25 1096.41L2032.45 1098.27M2041.1 1109.13L2043.25 1111.18L2046.25 1113.63L2048.25 1115.04L2050.25 1116.2L2052.25 1117.09L2053.25 1117.43L2054.42 1117.63M2068.45 1110.36L2070.25 1108.52L2073.25 1105.03L2076.25 1101.22L2077.64 1099.3M2084.89 1087.94L2087.25 1083.78L2090.25 1078.07L2091.29 1075.97M2096.61 1064.12L2099.25 1057.79L2101.61 1051.83M2106.38 1039.86L2109.25 1032.9L2111.25 1027.69L2111.29 1027.56M2115.46 1015.49L2119.69 1003.07M2124.13 991.04L2127.25 983.32L2129.14 978.75M2133.88 966.78L2136.25 961.04L2138.25 956.52L2139.27 954.58" stroke="#0000ff" stroke-width="3.1"/>
</g>
<g clip-path="url(#c3)" fill="none" stroke-linejoin="round">
<path d="M177.25 953.53L180.25 955.61L184.25 958.79L187.25 961.44L190.25 964.43L195.25 969.91L199.25 974.69L203.25 979.83L207.25 985.27L210.25 989.7L212.25 992.91L214.25 996.43L217.25 1002.16L223.25 1014.16L231.25 1029.36L234.25 1035.33L238.25 1043.7L248.25 1065.3L253.25 1076.4L256.25 1082.7L258.25 1086.57L262.25 1093.92L265.25 1099.08L267.25 1102.21L269.25 1105.02L271.25 1107.47L274.25 1110.72L276.25 1112.59L279.25 1114.96L282.25 1117L285.25 1118.63L288.25 1119.9L289.25 1120.23L290.25 1120.39L291.25 1120.35L292.25 1120.13L294.25 1119.37L297.25 1118.02L300.25 1116.24L302.25 1114.78L304.25 1112.98L306.25 1110.83L309.25 1107.18L312.25 1103.23L315.25 1098.77L318.25 1093.84L320.25 1090.27L322.25 1086.42L325.25 1080.18L327.25 1075.7L329.25 1070.82L335.25 1055.34L339.25 1045.24L341.25 1039.89L342.25 1037.06L343.25 1034L346.25 1024.01L347.25 1020.82L348.25 1017.9L349.25 1015.22L353.25 1005.27L355.25 999.9L359.25 988.76L361.25 983.55L366.25 971.08L369.25 963.43L371.25 958.73L373.25 954.15L374.25 951.64L376.25 946.13L378.25 940.61L379.25 938.08L380.25 935.86L382.25 931.83L388.25 920.34L390.25 916.71L393.25 911.72L396.25 907.17L399.25 903.09L402.25 899.44L404.25 897.3L407.25 894.59L409.25 893.05L411.25 891.79L414.25 890.35L416.25 889.62L419.25 889.02L423.25 888.64L425.25 888.69L427.25 889.12L431.25 890.61L434.25 892.15L437.25 894.07L440.25 896.38L450.25 904.84L454.25 908.62L461.25 915.79L472.25 927.51L475.25 930.44L479.25 933.95L483.25 937.08L487.25 939.89L490.25 941.74L495.25 944.36L498.25 945.58L502.25 946.74L506.25 947.51L513.25 948.18L518.25 948.28L525.25 947.95L531.25 947.06L534.25 947.13L541.25 948.02L552.25 948.65L555.25 949.06L564.25 951.21L568.25 952.43L570.25 953.28L572.25 954.49L579.25 960.01L584.25 964.26L589.25 968.8L592.25 971.83L595.25 975.32L598.25 979.3L601.25 983.77L603.25 987.1L605.25 990.73L608.25 996.56L610.25 1000.68L613.25 1007.3L618.25 1018.81L622.25 1028.15L624.25 1032.51L630.25 1044.78L632.25 1049.11L637.25 1060.51L639.25 1064.86L642.25 1070.96L652.25 1090.29L654.25 1093.9L657.25 1098.91L660.25 1103.54L662.25 1106.31L664.25 1108.78L667.25 1112.09L670.25 1114.92L673.25 1117.29L675.25 1118.63L677.25 1119.67L679.25 1120.47L680.25 1120.68L681.25 1120.71L682.25 1120.54L685.25 1119.48L688.25 1118L691.25 1116.03L693.25 1114.48L695.25 1112.61L697.25 1110.41L700.25 1106.75L703.25 1102.75L706.25 1098.29L709.25 1093.46L712.25 1088.26L715.25 1082.62L717.25 1078.59L719.25 1074.28L722.25 1067.33L725.25 1060.04L728.25 1052.29L731.25 1044.56L735.25 1034.7L737.25 1029.41L739.25 1023.66L746.25 1002.7L748.25 997.04L750.25 991.74L753.25 984.19L756.25 976.75L760.25 966.41L762.25 961.5L764.25 956.88L766.25 952.32L767.25 949.78L769.25 944.32L770.25 941.69L771.25 939.25L772.25 937.01L774.25 932.89L780.25 921.35L783.25 915.91L786.25 911L789.25 906.51L792.25 902.51L795.25 898.92L797.25 896.85L800.25 894.22L802.25 892.73L804.25 891.55L807.25 890.16L809.25 889.49L812.25 888.96L816.25 888.62L818.25 888.76L820.25 889.26L824.25 890.81L827.25 892.42L830.25 894.39L833.25 896.76L842.25 904.36L846.25 908.09L853.25 915.22L865.25 927.98L868.25 930.86L872.25 934.33L876.25 937.41L880.25 940.19L884.25 942.55L888.25 944.57L891.25 945.74L895.25 946.85L899.25 947.57L906.25 948.2L911.25 948.28L918.25 947.9L923.25 947.1L925.25 947.03L929.25 947.45L934.25 948.06L945.25 948.69L948.25 949.14L958.25 951.61L961.25 952.6L963.25 953.52L965.25 954.82L973.25 961.21L979.25 966.46L983.25 970.23L986.25 973.46L989.25 977.19L992.25 981.41L994.25 984.5L996.25 987.91L999.25 993.52L1002.25 999.54L1004.25 1003.84L1009.25 1015.21L1014.25 1026.93L1016.25 1031.36L1019.25 1037.56L1023.25 1045.75L1026.25 1052.42L1030.25 1061.54L1032.25 1065.82L1035.25 1071.87L1044.25 1089.27L1046.25 1092.95L1049.25 1098.04L1052.25 1102.75L1054.25 1105.59L1056.25 1108.14L1059.25 1111.52L1062.25 1114.45L1065.25 1116.89L1067.25 1118.29L1069.25 1119.42L1071.25 1120.28L1072.25 1120.59L1073.25 1120.72L1074.25 1120.65L1076.25 1120.08L1079.25 1118.82L1082.25 1117.09L1085.25 1114.92L1087.25 1113.15L1089.25 1111.03L1092.25 1107.43L1095.25 1103.51L1098.25 1099.12L1101.25 1094.35L1104.25 1089.23L1107.25 1083.67L1109.25 1079.7L1111.25 1075.47L1114.25 1068.62L1117.25 1061.38L1120.25 1053.71L1123.25 1045.92L1128.25 1033.52L1129.25 1030.89L1131.25 1025.25L1139.25 1001.36L1141.25 995.8L1144.25 988.02L1148.25 978.12L1152.25 967.77L1155.25 960.4L1158.25 953.6L1159.25 951.18L1161.25 945.8L1162.25 943.09L1163.25 940.54L1164.25 938.2L1166.25 933.97L1172.25 922.37L1175.25 916.85L1178.25 911.85L1181.25 907.28L1184.25 903.2L1187.25 899.53L1189.25 897.38L1192.25 894.66L1194.25 893.1L1196.25 891.84L1199.25 890.38L1201.25 889.65L1204.25 889.03L1208.25 888.64L1210.25 888.69L1212.25 889.1L1216.25 890.58L1219.25 892.1L1222.25 894.02L1225.25 896.31L1235.25 904.77L1239.25 908.55L1246.25 915.71L1257.25 927.43L1260.25 930.37L1264.25 933.88L1268.25 937.02L1272.25 939.84L1275.25 941.7L1280.25 944.32L1283.25 945.56L1287.25 946.72L1291.25 947.5L1298.25 948.17L1303.25 948.29L1310.25 947.96L1316.25 947.06L1319.25 947.13L1326.25 948.02L1337.25 948.64L1340.25 949.04L1349.25 951.19L1353.25 952.4L1355.25 953.24L1357.25 954.43L1363.25 959.15L1368.25 963.31L1374.25 968.72L1377.25 971.74L1380.25 975.22L1383.25 979.18L1386.25 983.64L1388.25 986.96L1390.25 990.58L1393.25 996.4L1395.25 1000.51L1398.25 1007.12L1403.25 1018.62L1407.25 1027.97L1409.25 1032.34L1415.25 1044.61L1417.25 1048.93L1422.25 1060.33L1424.25 1064.69L1427.25 1070.8L1437.25 1090.14L1439.25 1093.76L1442.25 1098.78L1445.25 1103.43L1447.25 1106.2L1449.25 1108.68L1452.25 1112.01L1455.25 1114.85L1458.25 1117.23L1460.25 1118.58L1462.25 1119.63L1464.25 1120.44L1465.25 1120.67L1466.25 1120.71L1467.25 1120.56L1470.25 1119.51L1473.25 1118.04L1476.25 1116.09L1478.25 1114.55L1480.25 1112.69L1482.25 1110.51L1485.25 1106.85L1488.25 1102.87L1491.25 1098.41L1494.25 1093.59L1497.25 1088.41L1500.25 1082.78L1502.25 1078.76L1504.25 1074.46L1507.25 1067.52L1510.25 1060.23L1513.25 1052.5L1516.25 1044.76L1520.25 1034.9L1522.25 1029.63L1524.25 1023.89L1531.25 1002.93L1533.25 997.26L1535.25 991.95L1538.25 984.39L1541.25 976.95L1545.25 966.61L1547.25 961.69L1549.25 957.06L1551.25 952.52L1552.25 949.99L1555.25 941.89L1556.25 939.44L1557.25 937.18L1559.25 933.05L1566.25 919.63L1568.25 916.05L1571.25 911.12L1574.25 906.63L1577.25 902.61L1580.25 899.01L1582.25 896.93L1585.25 894.28L1587.25 892.78L1589.25 891.59L1592.25 890.19L1594.25 889.51L1597.25 888.97L1601.25 888.62L1603.25 888.74L1605.25 889.24L1609.25 890.78L1612.25 892.38L1615.25 894.34L1618.25 896.7L1627.25 904.29L1631.25 908.02L1638.25 915.14L1650.25 927.9L1653.25 930.79L1657.25 934.26L1661.25 937.36L1665.25 940.14L1669.25 942.51L1673.25 944.54L1676.25 945.71L1680.25 946.83L1684.25 947.56L1691.25 948.2L1696.25 948.28L1703.25 947.91L1708.25 947.11L1710.25 947.03L1713.25 947.3L1718.25 947.97L1730.25 948.69L1733.25 949.13L1743.25 951.59L1746.25 952.57L1748.25 953.47L1750.25 954.76L1758.25 961.15L1764.25 966.39L1768.25 970.15L1771.25 973.37L1774.25 977.09L1777.25 981.29L1779.25 984.37L1781.25 987.77L1784.25 993.37L1787.25 999.38L1789.25 1003.67L1794.25 1015.03L1799.25 1026.74L1801.25 1031.19L1804.25 1037.4L1808.25 1045.58L1811.25 1052.23L1815.25 1061.36L1817.25 1065.65L1820.25 1071.71L1829.25 1089.12L1831.25 1092.81L1834.25 1097.9L1837.25 1102.63L1839.25 1105.49L1841.25 1108.04L1844.25 1111.44L1847.25 1114.38L1850.25 1116.83L1852.25 1118.24L1854.25 1119.38L1856.25 1120.25L1857.25 1120.57L1858.25 1120.72L1859.25 1120.66L1861.25 1120.11L1864.25 1118.86L1867.25 1117.14L1870.25 1114.99L1872.25 1113.23L1874.25 1111.12L1877.25 1107.53L1880.25 1103.62L1883.25 1099.24L1886.25 1094.48L1889.25 1089.37L1892.25 1083.83L1894.25 1079.87L1896.25 1075.65L1899.25 1068.8L1902.25 1061.57L1905.25 1053.92L1908.25 1046.12L1913.25 1033.73L1914.25 1031.1L1916.25 1025.48L1924.25 1001.59L1926.25 996.01L1929.25 988.22L1933.25 978.32L1938.25 965.46L1940.25 960.59L1943.25 953.79L1944.25 951.38L1945.25 948.76L1947.25 943.3L1948.25 940.74L1949.25 938.38L1951.25 934.13L1957.25 922.53L1960.25 916.99L1963.25 911.98L1966.25 907.4L1969.25 903.3L1972.25 899.62L1974.25 897.46L1977.25 894.73L1979.25 893.16L1981.25 891.88L1984.25 890.42L1986.25 889.67L1988.25 889.2L1992.25 888.71L1994.25 888.62L1996.25 888.83L1998.25 889.39L2002.25 890.99L2005.25 892.66L2008.25 894.67L2011.25 897.09L2020.25 904.7L2024.25 908.47L2031.25 915.62L2043.25 928.36L2046.25 931.21L2050.25 934.64L2054.25 937.69L2058.25 940.44L2062.25 942.76L2066.25 944.74L2069.25 945.86L2073.25 946.94L2077.25 947.62L2084.25 948.22L2089.25 948.27L2095.25 947.97L2101.25 947.07L2103.25 947.04L2107.25 947.51L2111.25 948.01L2122.25 948.64L2125.25 949.03L2133.25 950.92L2137.25 952.03L2139.9 952.91" stroke="#ff0000" stroke-width="3.6"/>
<path d="M177.25 953.47L180.25 955.51L183.76 958.23M194.16 968.35L198.25 973.04L202.25 978L203.35 979.42M211.27 990.57L213.25 993.83L216.25 999.31L217.89 1002.48M223.87 1014.19L230.3 1026.15M236.25 1037.86L242.02 1049.99M247.59 1061.79L253.17 1073.96M259.1 1085.67L263.25 1093.07L265.96 1097.52M274.77 1108.32L277.25 1110.49L280.25 1112.69L283.25 1114.58L286.25 1116.02L288.3 1116.87M303.03 1111.17L305.25 1109.03L308.25 1105.58L311.25 1101.82L312.44 1100.21M319.64 1088.83L322.25 1083.96L325.25 1077.84L325.74 1076.79M330.75 1064.87L335.25 1053.45L335.61 1052.56M340.38 1040.59L342.25 1035.49L343.25 1032.49L344.59 1028.16M348.49 1016.05L349.25 1014.05L353.45 1003.76M357.9 991.73L360.25 985.46L362.7 979.41M367.54 967.45L369.25 963.19L371.25 958.57L372.75 955.21M377.34 943.21L378.25 940.78L379.25 938.3L380.25 936.12L382.84 931.04M389.07 919.39L391.25 915.62L394.25 910.88L396.43 907.69M405.58 897.02L408.25 894.81L410.25 893.42L413.25 891.86L416.25 890.71L419.25 890.12L420.4 889.98M436.33 894.47L439.25 896.54L448.44 904.1M459.03 914.13L469.23 924.78M479.9 934.76L484.25 938.03L488.25 940.71L492.25 942.98L493.3 943.52M509.87 947.95L515.25 948.3L521.25 948.23L526.25 947.88L528.25 947.54M546.04 948.32L553.25 948.78L557.25 949.49L563.97 951.12M577.82 958.71L583.25 963.15L589.43 968.64M598.62 979.29L601.25 983.16L603.25 986.43L605.81 991.04M611.66 1002.78L617.12 1014.97M622.3 1026.86L624.25 1031.03L628.21 1038.95M633.79 1050.75L637.25 1058.53L639.31 1062.92M645.3 1074.63L651.63 1086.62M658.45 1098.1L661.25 1102.18L663.25 1104.74L666.25 1108.14L667.35 1109.27M680.27 1117.62L681.25 1117.64L682.25 1117.47L685.25 1116.43L688.25 1114.98L691.25 1113.04L693.25 1111.52L694.7 1110.22M703.64 1099.46L706.25 1095.62L709.25 1090.88L711.1 1087.79M717.32 1076.14L719.25 1072.04L722.25 1065.23L722.79 1063.95M727.65 1052L730.25 1045.34L732.56 1039.7M737.34 1027.73L739.25 1022.34L741.63 1015.32M745.74 1003.24L747.25 998.92L749.25 993.56L750.3 990.87M755.18 978.92L760.05 966.62M765.18 954.72L766.25 952.28L767.25 949.79L770.03 942.41M775.61 930.61L781.25 920.03L782.03 918.64M789.26 907.28L792.25 903.37L795.25 899.85L797.25 897.81L798.84 896.39M813.59 889.91L816.25 889.73L818.25 889.86L820.25 890.36L824.25 891.88L827.25 893.46L829.7 895.02M841.4 904.45L845.25 907.9L851.25 913.81L852.22 914.79M862.13 925.16L866.25 929.36L870.25 932.96L873.2 935.36M886.37 943.79L889.25 945.1L892.25 946.12L896.25 947.13L900.25 947.73L903.56 948.05M921.43 947.43L924.25 947.09L927.25 947.24L933.25 948.02L939.74 948.37M957.13 951.28L961.25 952.56L963.25 953.46L965.25 954.73L971.12 959.31M982.36 969L985.25 971.93L988.25 975.43L991.25 979.41L991.67 980.01M998.57 991.47L1001.25 996.64L1003.25 1000.73L1004.55 1003.54M1009.85 1015.4L1014.25 1025.55L1015.19 1027.62M1020.96 1039.38L1023.25 1044.03L1026.25 1050.58L1026.66 1051.51M1032.06 1063.35L1035.25 1069.68L1038.24 1075.38M1044.4 1087.04L1047.25 1092.1L1050.25 1096.96L1051.47 1098.83M1060.26 1109.64L1063.25 1112.34L1066.25 1114.6L1068.25 1115.86L1071.25 1117.22L1072.25 1117.52L1073.25 1117.65L1073.97 1117.6M1087.62 1109.85L1090.25 1107L1093.25 1103.36L1096.25 1099.36L1096.68 1098.74M1103.88 1087.37L1106.25 1083.14L1109.25 1077.37L1110.22 1075.38M1115.51 1063.52L1118.25 1056.92L1120.49 1051.23M1125.28 1039.27L1128.25 1032.02L1130.16 1026.96M1134.32 1014.88L1138.55 1002.46M1143.01 990.44L1146.25 982.48L1148.03 978.16M1152.77 966.18L1155.25 960.22L1158.06 953.96M1162.75 941.97L1163.25 940.72L1164.25 938.41L1166.25 934.26L1168.54 929.86M1174.81 918.22L1177.25 914.12L1180.25 909.5L1182.32 906.57M1191.8 896.04L1194.25 894.13L1196.25 892.89L1199.25 891.46L1201.25 890.74L1204.25 890.13L1207.28 889.8M1222.7 895.34L1225.25 897.28L1234.66 905.08M1245.13 915.17L1255.3 925.83M1266.18 935.7L1271.25 939.36L1275.25 941.85L1279.86 944.24M1296.75 948.1L1302.25 948.33L1309.25 948.08L1312.25 947.73L1315.09 947.25M1332.94 948.4L1338.25 948.77L1341.25 949.26L1350.74 951.57M1364.1 959.65L1369.25 963.94L1374.25 968.39L1375.57 969.65M1384.49 980.42L1386.25 983.04L1388.25 986.3L1390.25 989.85L1391.51 992.22M1397.29 1003.97L1402.72 1016.17M1407.93 1028.05L1410.25 1032.91L1413.88 1040.13M1419.4 1051.95L1423.25 1060.52L1424.98 1064.11M1431.01 1075.81L1437.35 1087.79M1444.28 1099.24L1446.25 1102.07L1448.25 1104.65L1451.25 1108.05L1453.48 1110.29M1467.15 1117.51L1469.25 1116.85L1472.25 1115.56L1475.25 1113.79L1478.25 1111.59L1480.25 1109.77L1480.8 1109.19M1489.51 1098.33L1492.25 1094.2L1495.25 1089.36L1496.85 1086.62M1502.97 1074.95L1505.25 1070L1508.38 1062.75M1513.2 1050.79L1516.25 1043.06L1518.14 1038.5M1522.86 1026.52L1525.25 1019.63L1527.12 1014.1M1531.24 1002.02L1533.25 996.41L1535.86 989.67M1540.75 977.72L1545.25 966.32L1545.62 965.41M1550.79 953.52L1551.25 952.47L1552.25 949.99L1555.25 942.04L1555.6 941.2M1561.31 929.43L1566.25 920.18L1567.78 917.48M1575.16 906.16L1578.25 902.24L1580.25 899.93L1582.25 897.89L1585.08 895.43M1600.47 889.77L1602.25 889.75L1604.25 890.05L1607.25 891.05L1610.25 892.31L1613.25 894.03L1616.05 895.92M1627.61 905.43L1632.25 909.74L1638.31 915.83M1648.21 926.21L1651.25 929.28L1655.25 932.89L1659.49 936.3M1672.94 944.5L1676.25 945.79L1681.25 947.11L1685.25 947.73L1690.44 948.19M1708.28 947.16L1710.25 947.08L1714.25 947.49L1719.25 948.09L1726.63 948.46M1743.89 951.75L1747.25 952.93L1749.25 954L1752.25 956.2L1757.39 960.26M1768.49 970.03L1771.25 972.95L1774.25 976.6L1777.25 980.73L1777.53 981.14M1784.28 992.64L1787.25 998.49L1789.25 1002.71L1790.18 1004.73M1795.45 1016.6L1799.25 1025.37L1800.82 1028.81M1806.63 1040.56L1809.25 1045.99L1812.27 1052.71M1817.73 1064.54L1821.25 1071.45L1823.94 1076.56M1830.12 1088.22L1832.25 1091.96L1835.25 1096.83L1837.31 1099.97M1846.41 1110.66L1849.25 1113.07L1852.25 1115.22L1854.25 1116.33L1856.25 1117.19L1857.25 1117.5L1858.25 1117.65L1859.25 1117.6L1860.76 1117.21M1873.7 1108.81L1876.25 1105.91L1879.25 1102.18L1882.25 1098.04L1882.54 1097.61M1889.63 1086.2L1892.25 1081.42L1894.25 1077.53L1895.87 1074.19M1901.1 1062.32L1903.25 1057.12L1906.04 1050.02M1910.86 1038.06L1913.25 1032.22L1914.25 1029.64L1915.68 1025.74M1919.81 1013.66L1924.05 1001.24M1928.57 989.23L1933.6 976.95M1938.34 964.97L1940.25 960.4L1943.66 952.76M1948.31 940.76L1949.25 938.59L1951.25 934.42L1954.25 928.68M1960.56 917.06L1963.25 912.67L1966.25 908.17L1968.23 905.45M1978.05 895.09L1980.25 893.52L1983.25 891.94L1986.25 890.76L1988.25 890.29L1992.25 889.81L1994.17 889.73M2009.03 896.25L2020.25 905.52L2020.86 906.06M2031.22 916.21L2041.39 926.87M2052.48 936.63L2057.25 939.97L2061.25 942.36L2065.25 944.39L2066.46 944.93M2083.64 948.23L2088.25 948.32L2095.25 948.01L2101.25 947.12L2101.97 947.09M2119.83 948.5L2124.25 948.89L2128.25 949.69L2136.25 951.69L2137.49 952.08" stroke="#0000ff" stroke-width="3.1"/>
</g>
<g stroke="#000" stroke-width="3.6" fill="none">
<line x1="177.25" y1="915.6" x2="187.9" y2="915.6"/>
<line x1="2139.9" y1="915.6" x2="2129.25" y2="915.6"/>
<line x1="177.25" y1="950.2" x2="187.9" y2="950.2"/>
<line x1="2139.9" y1="950.2" x2="2129.25" y2="950.2"/>
<line x1="177.25" y1="984.6" x2="187.9" y2="984.6"/>
<line x1="2139.9" y1="984.6" x2="2129.25" y2="984.6"/>
<line x1="177.25" y1="1019" x2="187.9" y2="1019"/>
<line x1="2139.9" y1="1019" x2="2129.25" y2="1019"/>
<line x1="177.25" y1="1053.5" x2="187.9" y2="1053.5"/>
<line x1="2139.9" y1="1053.5" x2="2129.25" y2="1053.5"/>
<line x1="177.25" y1="1089.3" x2="187.9" y2="1089.3"/>
<line x1="2139.9" y1="1089.3" x2="2129.25" y2="1089.3"/>
<line x1="373.51" y1="879.9" x2="373.51" y2="884.55"/>
<line x1="373.51" y1="1123.8" x2="373.51" y2="1119.15"/>
<line x1="569.78" y1="879.9" x2="569.78" y2="890.25"/>
<line x1="569.78" y1="1123.8" x2="569.78" y2="1113.45"/>
<line x1="766.05" y1="879.9" x2="766.05" y2="884.55"/>
<line x1="766.05" y1="1123.8" x2="766.05" y2="1119.15"/>
<line x1="962.31" y1="879.9" x2="962.31" y2="890.25"/>
<line x1="962.31" y1="1123.8" x2="962.31" y2="1113.45"/>
<line x1="1158.58" y1="879.9" x2="1158.58" y2="884.55"/>
<line x1="1158.58" y1="1123.8" x2="1158.58" y2="1119.15"/>
<line x1="1354.84" y1="879.9" x2="1354.84" y2="890.25"/>
<line x1="1354.84" y1="1123.8" x2="1354.84" y2="1113.45"/>
<line x1="1551.11" y1="879.9" x2="1551.11" y2="884.55"/>
<line x1="1551.11" y1="1123.8" x2="1551.11" y2="1119.15"/>
<line x1="1747.37" y1="879.9" x2="1747.37" y2="890.25"/>
<line x1="1747.37" y1="1123.8" x2="1747.37" y2="1113.45"/>
<line x1="1943.64" y1="879.9" x2="1943.64" y2="884.55"/>
<line x1="1943.64" y1="1123.8" x2="1943.64" y2="1119.15"/>
</g>
<rect x="177.25" y="879.9" width="1962.65" height="243.9" fill="none" stroke="#000" stroke-width="3.7"/>
</g>
<g class="yt">
<text transform="translate(168 59.9) scale(1.052 1.075)">400</text>
<text transform="translate(168 186.2) scale(1.052 1.075)">0</text>
<text transform="translate(168 271.5) scale(1.052 1.075)">-300</text>
<text transform="translate(168 341.6) scale(1.052 1.075)">0.5</text>
<text transform="translate(168 450.9) scale(1.052 1.075)">0</text>
<text transform="translate(168 556.7) scale(1.052 1.075)">-0.5</text>
<text transform="translate(168 633.6) scale(1.052 1.075)">0.06</text>
<text transform="translate(168 735.8) scale(1.052 1.075)">0</text>
<text transform="translate(168 836.7) scale(1.052 1.075)">-0.06</text>
<text transform="translate(168 916.4) scale(1.052 1.075)">400</text>
<text transform="translate(168 969.3) scale(1.052 1.075)">0</text>
<text transform="translate(170.7 1123.9) scale(1.035 1.075)">-1000</text>
</g>
<g class="xt">
<text transform="translate(176.8 1176) scale(1.01 1.053)">0.00</text>
<text transform="translate(569.2 1176) scale(1.01 1.053)">0.04</text>
<text transform="translate(961.6 1176) scale(1.01 1.053)">0.08</text>
<text transform="translate(1354 1176) scale(1.01 1.053)">0.12</text>
<text transform="translate(1746.4 1176) scale(1.01 1.053)">0.16</text>
<text transform="translate(2138.8 1176) scale(1.01 1.053)">0.20</text>
</g>
<text class="xl" x="1158.5" y="1223.5">Time (s)</text>
<g class="yl">
<text class="it" font-weight="bold" font-size="43.6" transform="translate(29.9 229.8) rotate(-90) scale(1.06 1)">~</text>
<text class="it" font-size="58.1" transform="translate(53.9 232.3) rotate(-90) scale(0.96 1)">u</text>
<text class="it" font-size="38.8" transform="translate(69.5 201.6) rotate(-90) scale(0.88 1)">cap</text>
<text font-size="56.1" transform="translate(53.9 137.1) rotate(-90) scale(0.89 1)">(V)</text>
<text class="it" font-size="58.7" transform="translate(53.9 469.1) rotate(-90) scale(0.86 1)">S</text>
<text class="it" font-size="41.1" transform="translate(69.1 442.9) rotate(-90) scale(0.88 1)">ref</text>
<text class="it" font-size="58.7" transform="translate(53.9 763.1) rotate(-90) scale(0.84 1)">S</text>
<text class="it" font-size="41.1" transform="translate(68.5 734.8) rotate(-90) scale(0.82 1)">add</text>
<text class="it" font-size="60.8" transform="translate(54.5 1085.4) rotate(-90) scale(1.12 1)">i</text>
<text class="it" font-size="36.7" transform="translate(68.5 1068.6) rotate(-90) scale(0.99 1)">arm</text>
<text font-size="56.1" transform="translate(53.9 994.5) rotate(-90) scale(0.94 1)">(A)</text>
</g>
</svg>
</body></html>
